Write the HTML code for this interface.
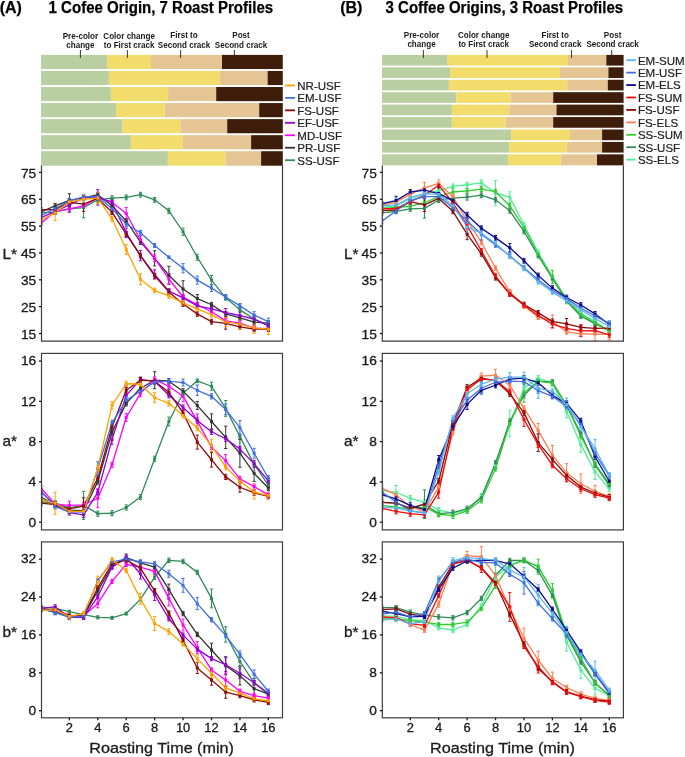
<!DOCTYPE html>
<html><head><meta charset="utf-8"><title>Roast profiles</title>
<style>
html,body{margin:0;padding:0;background:#fff;}
body{width:685px;height:757px;overflow:hidden;}
svg{display:block;font-family:'Liberation Sans',sans-serif;will-change:transform;}
</style></head><body>
<svg width="685" height="757" viewBox="0 0 685 757" font-family="Liberation Sans, sans-serif">
<defs><clipPath id="cAL"><rect x="41.5" y="165.5" width="241.0" height="175.60000000000002"/></clipPath><clipPath id="cAa"><rect x="41.5" y="353.4" width="241.0" height="176.5"/></clipPath><clipPath id="cAb"><rect x="41.5" y="541.9" width="241.0" height="175.89999999999998"/></clipPath><clipPath id="cBL"><rect x="382.3" y="165.5" width="241.09999999999997" height="175.60000000000002"/></clipPath><clipPath id="cBa"><rect x="382.3" y="353.4" width="241.09999999999997" height="176.5"/></clipPath><clipPath id="cBb"><rect x="382.3" y="541.9" width="241.09999999999997" height="175.89999999999998"/></clipPath></defs>
<rect width="685" height="757" fill="#fff"/>
<text x="-0.30" y="12.60" font-size="16" font-weight="bold" stroke="#000" stroke-width="0.25" fill="#000">(A)</text>
<text x="48.60" y="12.60" font-size="15.8" font-weight="bold" stroke="#000" stroke-width="0.25" textLength="224.5" lengthAdjust="spacingAndGlyphs" fill="#000">1 Cofee Origin, 7 Roast Profiles</text>
<text x="340.20" y="12.60" font-size="16" font-weight="bold" stroke="#000" stroke-width="0.25" fill="#000">(B)</text>
<text x="385.60" y="12.60" font-size="15.8" font-weight="bold" stroke="#000" stroke-width="0.25" textLength="237.5" lengthAdjust="spacingAndGlyphs" fill="#000">3 Coffee Origins, 3 Roast Profiles</text>
<text transform="translate(80.40 38.80) scale(0.95 1)" font-size="8.5" text-anchor="middle" font-weight="bold" fill="#1a1a1a">Pre-color</text>
<text transform="translate(80.40 48.40) scale(0.95 1)" font-size="8.5" text-anchor="middle" font-weight="bold" fill="#1a1a1a">change</text>
<text transform="translate(129.10 38.60) scale(0.95 1)" font-size="8.5" text-anchor="middle" font-weight="bold" fill="#1a1a1a">Color change</text>
<text transform="translate(129.10 48.40) scale(0.95 1)" font-size="8.5" text-anchor="middle" font-weight="bold" fill="#1a1a1a">to First crack</text>
<text transform="translate(184.00 38.30) scale(0.95 1)" font-size="8.5" text-anchor="middle" font-weight="bold" fill="#1a1a1a">First to</text>
<text transform="translate(184.00 48.10) scale(0.95 1)" font-size="8.5" text-anchor="middle" font-weight="bold" fill="#1a1a1a">Second crack</text>
<text transform="translate(241.00 38.30) scale(0.95 1)" font-size="8.5" text-anchor="middle" font-weight="bold" fill="#1a1a1a">Post</text>
<text transform="translate(241.00 48.10) scale(0.95 1)" font-size="8.5" text-anchor="middle" font-weight="bold" fill="#1a1a1a">Second crack</text>
<text transform="translate(421.50 37.70) scale(0.95 1)" font-size="8.5" text-anchor="middle" font-weight="bold" fill="#1a1a1a">Pre-color</text>
<text transform="translate(421.50 47.40) scale(0.95 1)" font-size="8.5" text-anchor="middle" font-weight="bold" fill="#1a1a1a">change</text>
<text transform="translate(483.70 37.70) scale(0.95 1)" font-size="8.5" text-anchor="middle" font-weight="bold" fill="#1a1a1a">Color change</text>
<text transform="translate(483.70 47.40) scale(0.95 1)" font-size="8.5" text-anchor="middle" font-weight="bold" fill="#1a1a1a">to First crack</text>
<text transform="translate(555.20 37.70) scale(0.95 1)" font-size="8.5" text-anchor="middle" font-weight="bold" fill="#1a1a1a">First to</text>
<text transform="translate(555.20 47.40) scale(0.95 1)" font-size="8.5" text-anchor="middle" font-weight="bold" fill="#1a1a1a">Second crack</text>
<text transform="translate(612.60 37.70) scale(0.95 1)" font-size="8.5" text-anchor="middle" font-weight="bold" fill="#1a1a1a">Post</text>
<text transform="translate(612.60 47.40) scale(0.95 1)" font-size="8.5" text-anchor="middle" font-weight="bold" fill="#1a1a1a">Second crack</text>
<rect x="41.10" y="54.90" width="66.00" height="14.15" fill="#B9CFA1"/>
<rect x="107.10" y="54.90" width="43.90" height="14.15" fill="#F2DC6C"/>
<rect x="151.00" y="54.90" width="71.00" height="14.15" fill="#E6C594"/>
<rect x="222.00" y="54.90" width="60.80" height="14.15" fill="#3E1E0B"/>
<rect x="41.10" y="70.95" width="67.80" height="14.15" fill="#B9CFA1"/>
<rect x="108.90" y="70.95" width="111.00" height="14.15" fill="#F2DC6C"/>
<rect x="219.90" y="70.95" width="47.70" height="14.15" fill="#E6C594"/>
<rect x="267.60" y="70.95" width="15.20" height="14.15" fill="#3E1E0B"/>
<rect x="41.10" y="87.00" width="69.80" height="14.15" fill="#B9CFA1"/>
<rect x="110.90" y="87.00" width="57.20" height="14.15" fill="#F2DC6C"/>
<rect x="168.10" y="87.00" width="48.10" height="14.15" fill="#E6C594"/>
<rect x="216.20" y="87.00" width="66.60" height="14.15" fill="#3E1E0B"/>
<rect x="41.10" y="103.05" width="74.90" height="14.15" fill="#B9CFA1"/>
<rect x="116.00" y="103.05" width="48.50" height="14.15" fill="#F2DC6C"/>
<rect x="164.50" y="103.05" width="94.70" height="14.15" fill="#E6C594"/>
<rect x="259.20" y="103.05" width="23.60" height="14.15" fill="#3E1E0B"/>
<rect x="41.10" y="119.10" width="81.50" height="14.15" fill="#B9CFA1"/>
<rect x="122.60" y="119.10" width="57.70" height="14.15" fill="#F2DC6C"/>
<rect x="180.30" y="119.10" width="46.90" height="14.15" fill="#E6C594"/>
<rect x="227.20" y="119.10" width="55.60" height="14.15" fill="#3E1E0B"/>
<rect x="41.10" y="135.15" width="89.70" height="14.15" fill="#B9CFA1"/>
<rect x="130.80" y="135.15" width="52.10" height="14.15" fill="#F2DC6C"/>
<rect x="182.90" y="135.15" width="68.20" height="14.15" fill="#E6C594"/>
<rect x="251.10" y="135.15" width="31.70" height="14.15" fill="#3E1E0B"/>
<rect x="41.10" y="151.20" width="126.80" height="14.50" fill="#B9CFA1"/>
<rect x="167.90" y="151.20" width="57.60" height="14.50" fill="#F2DC6C"/>
<rect x="225.50" y="151.20" width="35.60" height="14.50" fill="#E6C594"/>
<rect x="261.10" y="151.20" width="21.70" height="14.50" fill="#3E1E0B"/>
<rect x="382.00" y="54.90" width="65.70" height="10.70" fill="#B9CFA1"/>
<rect x="447.70" y="54.90" width="120.30" height="10.70" fill="#F2DC6C"/>
<rect x="568.00" y="54.90" width="38.30" height="10.70" fill="#E6C594"/>
<rect x="606.30" y="54.90" width="17.30" height="10.70" fill="#3E1E0B"/>
<rect x="382.00" y="67.33" width="68.00" height="10.70" fill="#B9CFA1"/>
<rect x="450.00" y="67.33" width="110.00" height="10.70" fill="#F2DC6C"/>
<rect x="560.00" y="67.33" width="48.40" height="10.70" fill="#E6C594"/>
<rect x="608.40" y="67.33" width="15.20" height="10.70" fill="#3E1E0B"/>
<rect x="382.00" y="79.76" width="66.90" height="10.70" fill="#B9CFA1"/>
<rect x="448.90" y="79.76" width="118.30" height="10.70" fill="#F2DC6C"/>
<rect x="567.20" y="79.76" width="40.60" height="10.70" fill="#E6C594"/>
<rect x="607.80" y="79.76" width="15.80" height="10.70" fill="#3E1E0B"/>
<rect x="382.00" y="92.19" width="74.30" height="10.70" fill="#B9CFA1"/>
<rect x="456.30" y="92.19" width="54.10" height="10.70" fill="#F2DC6C"/>
<rect x="510.40" y="92.19" width="42.80" height="10.70" fill="#E6C594"/>
<rect x="553.20" y="92.19" width="70.40" height="10.70" fill="#3E1E0B"/>
<rect x="382.00" y="104.62" width="69.90" height="10.70" fill="#B9CFA1"/>
<rect x="451.90" y="104.62" width="57.40" height="10.70" fill="#F2DC6C"/>
<rect x="509.30" y="104.62" width="47.20" height="10.70" fill="#E6C594"/>
<rect x="556.50" y="104.62" width="67.10" height="10.70" fill="#3E1E0B"/>
<rect x="382.00" y="117.05" width="69.90" height="10.70" fill="#B9CFA1"/>
<rect x="451.90" y="117.05" width="53.70" height="10.70" fill="#F2DC6C"/>
<rect x="505.60" y="117.05" width="47.60" height="10.70" fill="#E6C594"/>
<rect x="553.20" y="117.05" width="70.40" height="10.70" fill="#3E1E0B"/>
<rect x="382.00" y="129.48" width="129.10" height="10.70" fill="#B9CFA1"/>
<rect x="511.10" y="129.48" width="58.90" height="10.70" fill="#F2DC6C"/>
<rect x="570.00" y="129.48" width="32.10" height="10.70" fill="#E6C594"/>
<rect x="602.10" y="129.48" width="21.50" height="10.70" fill="#3E1E0B"/>
<rect x="382.00" y="141.91" width="127.20" height="10.70" fill="#B9CFA1"/>
<rect x="509.20" y="141.91" width="57.90" height="10.70" fill="#F2DC6C"/>
<rect x="567.10" y="141.91" width="35.00" height="10.70" fill="#E6C594"/>
<rect x="602.10" y="141.91" width="21.50" height="10.70" fill="#3E1E0B"/>
<rect x="382.00" y="154.34" width="125.90" height="11.00" fill="#B9CFA1"/>
<rect x="507.90" y="154.34" width="52.80" height="11.00" fill="#F2DC6C"/>
<rect x="560.70" y="154.34" width="36.30" height="11.00" fill="#E6C594"/>
<rect x="597.00" y="154.34" width="26.60" height="11.00" fill="#3E1E0B"/>
<line x1="80.4" y1="50" x2="80.4" y2="58" stroke="#222" stroke-width="0.9"/>
<line x1="127.4" y1="50" x2="127.4" y2="58" stroke="#222" stroke-width="0.9"/>
<line x1="180.6" y1="50" x2="180.6" y2="58" stroke="#222" stroke-width="0.9"/>
<line x1="234.4" y1="50" x2="234.4" y2="58" stroke="#222" stroke-width="0.9"/>
<line x1="423.4" y1="50" x2="423.4" y2="58" stroke="#222" stroke-width="0.9"/>
<line x1="487.0" y1="50" x2="487.0" y2="58" stroke="#222" stroke-width="0.9"/>
<line x1="571.5" y1="50" x2="571.5" y2="58" stroke="#222" stroke-width="0.9"/>
<line x1="611.7" y1="50" x2="611.7" y2="58" stroke="#222" stroke-width="0.9"/>
<line x1="285.1" y1="85.40" x2="295.0" y2="85.40" stroke="#FFA200" stroke-width="1.8"/>
<text transform="translate(297.30 89.80) scale(1.02 1)" font-size="11.3" stroke="#222" stroke-width="0.2" fill="#222">NR-USF</text>
<line x1="285.1" y1="97.87" x2="295.0" y2="97.87" stroke="#3F6FE0" stroke-width="1.8"/>
<text transform="translate(297.30 102.27) scale(1.02 1)" font-size="11.3" stroke="#222" stroke-width="0.2" fill="#222">EM-USF</text>
<line x1="285.1" y1="110.34" x2="295.0" y2="110.34" stroke="#8B0A0A" stroke-width="1.8"/>
<text transform="translate(297.30 114.74) scale(1.02 1)" font-size="11.3" stroke="#222" stroke-width="0.2" fill="#222">FS-USF</text>
<line x1="285.1" y1="122.81" x2="295.0" y2="122.81" stroke="#9400D3" stroke-width="1.8"/>
<text transform="translate(297.30 127.21) scale(1.02 1)" font-size="11.3" stroke="#222" stroke-width="0.2" fill="#222">EF-USF</text>
<line x1="285.1" y1="135.28" x2="295.0" y2="135.28" stroke="#FF00FF" stroke-width="1.8"/>
<text transform="translate(297.30 139.68) scale(1.02 1)" font-size="11.3" stroke="#222" stroke-width="0.2" fill="#222">MD-USF</text>
<line x1="285.1" y1="147.75" x2="295.0" y2="147.75" stroke="#333333" stroke-width="1.8"/>
<text transform="translate(297.30 152.15) scale(1.02 1)" font-size="11.3" stroke="#222" stroke-width="0.2" fill="#222">PR-USF</text>
<line x1="285.1" y1="160.22" x2="295.0" y2="160.22" stroke="#2E8B57" stroke-width="1.8"/>
<text transform="translate(297.30 164.62) scale(1.02 1)" font-size="11.3" stroke="#222" stroke-width="0.2" fill="#222">SS-USF</text>
<line x1="626.3" y1="60.20" x2="635.9" y2="60.20" stroke="#5CB4F0" stroke-width="1.8"/>
<text transform="translate(637.90 64.60) scale(1.02 1)" font-size="11.3" stroke="#222" stroke-width="0.2" fill="#222">EM-SUM</text>
<line x1="626.3" y1="72.63" x2="635.9" y2="72.63" stroke="#3F6FE0" stroke-width="1.8"/>
<text transform="translate(637.90 77.03) scale(1.02 1)" font-size="11.3" stroke="#222" stroke-width="0.2" fill="#222">EM-USF</text>
<line x1="626.3" y1="85.06" x2="635.9" y2="85.06" stroke="#0A0A8C" stroke-width="1.8"/>
<text transform="translate(637.90 89.46) scale(1.02 1)" font-size="11.3" stroke="#222" stroke-width="0.2" fill="#222">EM-ELS</text>
<line x1="626.3" y1="97.49" x2="635.9" y2="97.49" stroke="#F00A0A" stroke-width="1.8"/>
<text transform="translate(637.90 101.89) scale(1.02 1)" font-size="11.3" stroke="#222" stroke-width="0.2" fill="#222">FS-SUM</text>
<line x1="626.3" y1="109.92" x2="635.9" y2="109.92" stroke="#8B0A0A" stroke-width="1.8"/>
<text transform="translate(637.90 114.32) scale(1.02 1)" font-size="11.3" stroke="#222" stroke-width="0.2" fill="#222">FS-USF</text>
<line x1="626.3" y1="122.35" x2="635.9" y2="122.35" stroke="#FF7F50" stroke-width="1.8"/>
<text transform="translate(637.90 126.75) scale(1.02 1)" font-size="11.3" stroke="#222" stroke-width="0.2" fill="#222">FS-ELS</text>
<line x1="626.3" y1="134.78" x2="635.9" y2="134.78" stroke="#32C832" stroke-width="1.8"/>
<text transform="translate(637.90 139.18) scale(1.02 1)" font-size="11.3" stroke="#222" stroke-width="0.2" fill="#222">SS-SUM</text>
<line x1="626.3" y1="147.21" x2="635.9" y2="147.21" stroke="#2E8B57" stroke-width="1.8"/>
<text transform="translate(637.90 151.61) scale(1.02 1)" font-size="11.3" stroke="#222" stroke-width="0.2" fill="#222">SS-USF</text>
<line x1="626.3" y1="159.64" x2="635.9" y2="159.64" stroke="#50EE96" stroke-width="1.8"/>
<text transform="translate(637.90 164.04) scale(1.02 1)" font-size="11.3" stroke="#222" stroke-width="0.2" fill="#222">SS-ELS</text>
<g clip-path="url(#cAL)">
<polyline points="40.94,212.68 55.15,212.14 69.37,208.92 83.58,207.57 97.79,199.79 112.00,198.18 126.22,197.37 140.43,194.69 154.64,199.79 168.86,210.80 183.07,231.74 197.28,257.25 211.50,280.07 225.71,297.79 239.92,309.87 254.13,319.00 268.35,325.71" fill="none" stroke="#2E8B57" stroke-width="1.3" stroke-linejoin="round"/>
<polyline points="40.94,211.87 55.15,205.96 69.37,200.32 83.58,197.91 97.79,194.69 112.00,205.69 126.22,221.00 140.43,241.94 154.64,258.32 168.86,275.24 183.07,288.93 197.28,298.60 211.50,304.77 225.71,313.90 239.92,317.93 254.13,322.22 268.35,323.03" fill="none" stroke="#333333" stroke-width="1.3" stroke-linejoin="round"/>
<polyline points="40.94,223.42 55.15,211.33 69.37,208.92 83.58,205.96 97.79,197.91 112.00,202.20 126.22,213.48 140.43,239.79 154.64,258.32 168.86,278.99 183.07,296.98 197.28,304.77 211.50,311.75 225.71,320.88 239.92,323.03 254.13,328.13 268.35,328.67" fill="none" stroke="#FF00FF" stroke-width="1.3" stroke-linejoin="round"/>
<polyline points="40.94,217.78 55.15,211.33 69.37,204.89 83.58,197.91 97.79,197.37 112.00,202.20 126.22,232.81 140.43,255.63 154.64,274.43 168.86,291.08 183.07,297.92 197.28,305.84 211.50,308.80 225.71,312.56 239.92,315.51 254.13,319.00 268.35,325.71" fill="none" stroke="#9400D3" stroke-width="1.3" stroke-linejoin="round"/>
<polyline points="40.94,209.99 55.15,209.45 69.37,202.47 83.58,204.08 97.79,198.44 112.00,212.14 126.22,234.16 140.43,255.63 154.64,275.77 168.86,291.88 183.07,303.97 197.28,313.90 211.50,321.69 225.71,323.30 239.92,326.79 254.13,329.20 268.35,329.20" fill="none" stroke="#8B0A0A" stroke-width="1.3" stroke-linejoin="round"/>
<polyline points="40.94,215.63 55.15,208.65 69.37,200.86 83.58,196.83 97.79,196.56 112.00,208.65 126.22,223.95 140.43,232.81 154.64,245.43 168.86,257.25 183.07,268.25 197.28,280.07 211.50,288.12 225.71,296.98 239.92,305.84 254.13,314.97 268.35,321.69" fill="none" stroke="#3F6FE0" stroke-width="1.3" stroke-linejoin="round"/>
<polyline points="40.94,220.19 55.15,212.68 69.37,201.94 83.58,199.25 97.79,198.18 112.00,218.85 126.22,249.46 140.43,279.26 154.64,290.54 168.86,295.91 183.07,302.89 197.28,308.80 211.50,314.71 225.71,321.95 239.92,324.10 254.13,327.86 268.35,329.20" fill="none" stroke="#FFA200" stroke-width="1.3" stroke-linejoin="round"/>
<path d="M40.94 210.28V215.08M39.34 210.28h3.2M39.34 215.08h3.2M55.15 209.74V214.54M53.55 209.74h3.2M53.55 214.54h3.2M69.37 206.52V211.32M67.77 206.52h3.2M67.77 211.32h3.2M83.58 197.37V217.77M81.98 197.37h3.2M81.98 217.77h3.2M97.79 197.39V202.19M96.19 197.39h3.2M96.19 202.19h3.2M112.00 195.78V200.58M110.41 195.78h3.2M110.41 200.58h3.2M126.22 194.97V199.77M124.62 194.97h3.2M124.62 199.77h3.2M140.43 192.29V197.09M138.83 192.29h3.2M138.83 197.09h3.2M154.64 197.39V202.19M153.04 197.39h3.2M153.04 202.19h3.2M168.86 208.20V213.40M167.26 208.20h3.2M167.26 213.40h3.2M183.07 228.14V235.34M181.47 228.14h3.2M181.47 235.34h3.2M197.28 254.25V260.25M195.68 254.25h3.2M195.68 260.25h3.2M211.50 275.47V284.67M209.90 275.47h3.2M209.90 284.67h3.2M225.71 295.39V300.19M224.11 295.39h3.2M224.11 300.19h3.2M239.92 307.47V312.27M238.32 307.47h3.2M238.32 312.27h3.2M254.13 316.60V321.40M252.53 316.60h3.2M252.53 321.40h3.2M268.35 323.31V328.11M266.75 323.31h3.2M266.75 328.11h3.2" stroke="#2E8B57" stroke-width="1" fill="none"/>
<path d="M40.94 209.47V214.27M39.34 209.47h3.2M39.34 214.27h3.2M55.15 203.56V208.36M53.55 203.56h3.2M53.55 208.36h3.2M69.37 193.72V206.92M67.77 193.72h3.2M67.77 206.92h3.2M83.58 195.51V200.31M81.98 195.51h3.2M81.98 200.31h3.2M97.79 192.29V197.09M96.19 192.29h3.2M96.19 197.09h3.2M112.00 203.29V208.09M110.41 203.29h3.2M110.41 208.09h3.2M126.22 218.60V223.40M124.62 218.60h3.2M124.62 223.40h3.2M140.43 239.54V244.34M138.83 239.54h3.2M138.83 244.34h3.2M154.64 250.72V265.92M153.04 250.72h3.2M153.04 265.92h3.2M168.86 266.24V284.24M167.26 266.24h3.2M167.26 284.24h3.2M183.07 280.73V297.13M181.47 280.73h3.2M181.47 297.13h3.2M197.28 294.60V302.60M195.68 294.60h3.2M195.68 302.60h3.2M211.50 302.37V307.17M209.90 302.37h3.2M209.90 307.17h3.2M225.71 311.50V316.30M224.11 311.50h3.2M224.11 316.30h3.2M239.92 315.53V320.33M238.32 315.53h3.2M238.32 320.33h3.2M254.13 319.82V324.62M252.53 319.82h3.2M252.53 324.62h3.2M268.35 320.63V325.43M266.75 320.63h3.2M266.75 325.43h3.2" stroke="#333333" stroke-width="1" fill="none"/>
<path d="M40.94 221.02V225.82M39.34 221.02h3.2M39.34 225.82h3.2M55.15 208.93V213.73M53.55 208.93h3.2M53.55 213.73h3.2M69.37 205.32V212.52M67.77 205.32h3.2M67.77 212.52h3.2M83.58 203.56V208.36M81.98 203.56h3.2M81.98 208.36h3.2M97.79 195.51V200.31M96.19 195.51h3.2M96.19 200.31h3.2M112.00 199.80V204.60M110.41 199.80h3.2M110.41 204.60h3.2M126.22 207.58V219.38M124.62 207.58h3.2M124.62 219.38h3.2M140.43 235.99V243.59M138.83 235.99h3.2M138.83 243.59h3.2M154.64 255.02V261.62M153.04 255.02h3.2M153.04 261.62h3.2M168.86 273.69V284.29M167.26 273.69h3.2M167.26 284.29h3.2M183.07 294.58V299.38M181.47 294.58h3.2M181.47 299.38h3.2M197.28 302.37V307.17M195.68 302.37h3.2M195.68 307.17h3.2M211.50 309.35V314.15M209.90 309.35h3.2M209.90 314.15h3.2M225.71 318.48V323.28M224.11 318.48h3.2M224.11 323.28h3.2M239.92 320.63V325.43M238.32 320.63h3.2M238.32 325.43h3.2M254.13 325.73V330.53M252.53 325.73h3.2M252.53 330.53h3.2M268.35 326.27V331.07M266.75 326.27h3.2M266.75 331.07h3.2" stroke="#FF00FF" stroke-width="1" fill="none"/>
<path d="M40.94 215.38V220.18M39.34 215.38h3.2M39.34 220.18h3.2M55.15 208.93V213.73M53.55 208.93h3.2M53.55 213.73h3.2M69.37 202.49V207.29M67.77 202.49h3.2M67.77 207.29h3.2M83.58 195.51V200.31M81.98 195.51h3.2M81.98 200.31h3.2M97.79 189.67V205.07M96.19 189.67h3.2M96.19 205.07h3.2M112.00 199.80V204.60M110.41 199.80h3.2M110.41 204.60h3.2M126.22 228.01V237.61M124.62 228.01h3.2M124.62 237.61h3.2M140.43 250.44V260.83M138.83 250.44h3.2M138.83 260.83h3.2M154.64 269.83V279.03M153.04 269.83h3.2M153.04 279.03h3.2M168.86 288.68V293.48M167.26 288.68h3.2M167.26 293.48h3.2M183.07 295.52V300.32M181.47 295.52h3.2M181.47 300.32h3.2M197.28 303.44V308.24M195.68 303.44h3.2M195.68 308.24h3.2M211.50 306.40V311.20M209.90 306.40h3.2M209.90 311.20h3.2M225.71 308.56V316.56M224.11 308.56h3.2M224.11 316.56h3.2M239.92 311.91V319.11M238.32 311.91h3.2M238.32 319.11h3.2M254.13 315.50V322.50M252.53 315.50h3.2M252.53 322.50h3.2M268.35 323.31V328.11M266.75 323.31h3.2M266.75 328.11h3.2" stroke="#9400D3" stroke-width="1" fill="none"/>
<path d="M40.94 207.59V212.39M39.34 207.59h3.2M39.34 212.39h3.2M55.15 207.05V211.85M53.55 207.05h3.2M53.55 211.85h3.2M69.37 200.07V204.87M67.77 200.07h3.2M67.77 204.87h3.2M83.58 196.78V211.38M81.98 196.78h3.2M81.98 211.38h3.2M97.79 196.04V200.84M96.19 196.04h3.2M96.19 200.84h3.2M112.00 209.74V214.54M110.41 209.74h3.2M110.41 214.54h3.2M126.22 231.75V236.56M124.62 231.75h3.2M124.62 236.56h3.2M140.43 253.23V258.03M138.83 253.23h3.2M138.83 258.03h3.2M154.64 273.37V278.17M153.04 273.37h3.2M153.04 278.17h3.2M168.86 289.48V294.28M167.26 289.48h3.2M167.26 294.28h3.2M183.07 301.57V306.37M181.47 301.57h3.2M181.47 306.37h3.2M197.28 311.50V316.30M195.68 311.50h3.2M195.68 316.30h3.2M211.50 319.29V324.09M209.90 319.29h3.2M209.90 324.09h3.2M225.71 317.40V329.20M224.11 317.40h3.2M224.11 329.20h3.2M239.92 324.39V329.19M238.32 324.39h3.2M238.32 329.19h3.2M254.13 326.80V331.60M252.53 326.80h3.2M252.53 331.60h3.2M268.35 326.80V331.60M266.75 326.80h3.2M266.75 331.60h3.2" stroke="#8B0A0A" stroke-width="1" fill="none"/>
<path d="M40.94 213.23V218.03M39.34 213.23h3.2M39.34 218.03h3.2M55.15 206.25V211.05M53.55 206.25h3.2M53.55 211.05h3.2M69.37 198.46V203.26M67.77 198.46h3.2M67.77 203.26h3.2M83.58 194.43V199.23M81.98 194.43h3.2M81.98 199.23h3.2M97.79 194.16V198.97M96.19 194.16h3.2M96.19 198.97h3.2M112.00 206.25V211.05M110.41 206.25h3.2M110.41 211.05h3.2M126.22 221.55V226.35M124.62 221.55h3.2M124.62 226.35h3.2M140.43 230.41V235.21M138.83 230.41h3.2M138.83 235.21h3.2M154.64 243.43V247.43M153.04 243.43h3.2M153.04 247.43h3.2M168.86 256.05V258.45M167.26 256.05h3.2M167.26 258.45h3.2M183.07 263.65V272.85M181.47 263.65h3.2M181.47 272.85h3.2M197.28 276.07V284.07M195.68 276.07h3.2M195.68 284.07h3.2M211.50 284.82V291.42M209.90 284.82h3.2M209.90 291.42h3.2M225.71 294.58V299.38M224.11 294.58h3.2M224.11 299.38h3.2M239.92 303.44V308.24M238.32 303.44h3.2M238.32 308.24h3.2M254.13 311.67V318.27M252.53 311.67h3.2M252.53 318.27h3.2M268.35 318.09V325.29M266.75 318.09h3.2M266.75 325.29h3.2" stroke="#3F6FE0" stroke-width="1" fill="none"/>
<path d="M40.94 217.79V222.59M39.34 217.79h3.2M39.34 222.59h3.2M55.15 204.98V220.38M53.55 204.98h3.2M53.55 220.38h3.2M69.37 199.53V204.34M67.77 199.53h3.2M67.77 204.34h3.2M83.58 194.95V203.55M81.98 194.95h3.2M81.98 203.55h3.2M97.79 192.98V203.38M96.19 192.98h3.2M96.19 203.38h3.2M112.00 216.45V221.25M110.41 216.45h3.2M110.41 221.25h3.2M126.22 244.56V254.36M124.62 244.56h3.2M124.62 254.36h3.2M140.43 273.76V284.76M138.83 273.76h3.2M138.83 284.76h3.2M154.64 288.14V292.94M153.04 288.14h3.2M153.04 292.94h3.2M168.86 293.51V298.31M167.26 293.51h3.2M167.26 298.31h3.2M183.07 300.49V305.29M181.47 300.49h3.2M181.47 305.29h3.2M197.28 306.40V311.20M195.68 306.40h3.2M195.68 311.20h3.2M211.50 312.31V317.11M209.90 312.31h3.2M209.90 317.11h3.2M225.71 317.45V326.45M224.11 317.45h3.2M224.11 326.45h3.2M239.92 319.10V329.10M238.32 319.10h3.2M238.32 329.10h3.2M254.13 322.36V333.36M252.53 322.36h3.2M252.53 333.36h3.2M268.35 323.90V334.50M266.75 323.90h3.2M266.75 334.50h3.2" stroke="#FFA200" stroke-width="1" fill="none"/>
<path d="M39.44 211.18h3v3h-3zM53.65 210.64h3v3h-3zM67.87 207.42h3v3h-3zM82.08 206.07h3v3h-3zM96.29 198.29h3v3h-3zM110.50 196.68h3v3h-3zM124.72 195.87h3v3h-3zM138.93 193.19h3v3h-3zM153.14 198.29h3v3h-3zM167.36 209.30h3v3h-3zM181.57 230.24h3v3h-3zM195.78 255.75h3v3h-3zM210.00 278.57h3v3h-3zM224.21 296.29h3v3h-3zM238.42 308.37h3v3h-3zM252.63 317.50h3v3h-3zM266.85 324.21h3v3h-3z" fill="#2E8B57"/>
<path d="M39.44 210.37h3v3h-3zM53.65 204.46h3v3h-3zM67.87 198.82h3v3h-3zM82.08 196.41h3v3h-3zM96.29 193.19h3v3h-3zM110.50 204.19h3v3h-3zM124.72 219.50h3v3h-3zM138.93 240.44h3v3h-3zM153.14 256.82h3v3h-3zM167.36 273.74h3v3h-3zM181.57 287.43h3v3h-3zM195.78 297.10h3v3h-3zM210.00 303.27h3v3h-3zM224.21 312.40h3v3h-3zM238.42 316.43h3v3h-3zM252.63 320.72h3v3h-3zM266.85 321.53h3v3h-3z" fill="#333333"/>
<path d="M39.44 221.92h3v3h-3zM53.65 209.83h3v3h-3zM67.87 207.42h3v3h-3zM82.08 204.46h3v3h-3zM96.29 196.41h3v3h-3zM110.50 200.70h3v3h-3zM124.72 211.98h3v3h-3zM138.93 238.29h3v3h-3zM153.14 256.82h3v3h-3zM167.36 277.49h3v3h-3zM181.57 295.48h3v3h-3zM195.78 303.27h3v3h-3zM210.00 310.25h3v3h-3zM224.21 319.38h3v3h-3zM238.42 321.53h3v3h-3zM252.63 326.63h3v3h-3zM266.85 327.17h3v3h-3z" fill="#FF00FF"/>
<path d="M39.44 216.28h3v3h-3zM53.65 209.83h3v3h-3zM67.87 203.39h3v3h-3zM82.08 196.41h3v3h-3zM96.29 195.87h3v3h-3zM110.50 200.70h3v3h-3zM124.72 231.31h3v3h-3zM138.93 254.13h3v3h-3zM153.14 272.93h3v3h-3zM167.36 289.58h3v3h-3zM181.57 296.42h3v3h-3zM195.78 304.34h3v3h-3zM210.00 307.30h3v3h-3zM224.21 311.06h3v3h-3zM238.42 314.01h3v3h-3zM252.63 317.50h3v3h-3zM266.85 324.21h3v3h-3z" fill="#9400D3"/>
<path d="M39.44 208.49h3v3h-3zM53.65 207.95h3v3h-3zM67.87 200.97h3v3h-3zM82.08 202.58h3v3h-3zM96.29 196.94h3v3h-3zM110.50 210.64h3v3h-3zM124.72 232.66h3v3h-3zM138.93 254.13h3v3h-3zM153.14 274.27h3v3h-3zM167.36 290.38h3v3h-3zM181.57 302.47h3v3h-3zM195.78 312.40h3v3h-3zM210.00 320.19h3v3h-3zM224.21 321.80h3v3h-3zM238.42 325.29h3v3h-3zM252.63 327.70h3v3h-3zM266.85 327.70h3v3h-3z" fill="#8B0A0A"/>
<path d="M39.44 214.13h3v3h-3zM53.65 207.15h3v3h-3zM67.87 199.36h3v3h-3zM82.08 195.33h3v3h-3zM96.29 195.06h3v3h-3zM110.50 207.15h3v3h-3zM124.72 222.45h3v3h-3zM138.93 231.31h3v3h-3zM153.14 243.93h3v3h-3zM167.36 255.75h3v3h-3zM181.57 266.75h3v3h-3zM195.78 278.57h3v3h-3zM210.00 286.62h3v3h-3zM224.21 295.48h3v3h-3zM238.42 304.34h3v3h-3zM252.63 313.47h3v3h-3zM266.85 320.19h3v3h-3z" fill="#3F6FE0"/>
<path d="M39.44 218.69h3v3h-3zM53.65 211.18h3v3h-3zM67.87 200.44h3v3h-3zM82.08 197.75h3v3h-3zM96.29 196.68h3v3h-3zM110.50 217.35h3v3h-3zM124.72 247.96h3v3h-3zM138.93 277.76h3v3h-3zM153.14 289.04h3v3h-3zM167.36 294.41h3v3h-3zM181.57 301.39h3v3h-3zM195.78 307.30h3v3h-3zM210.00 313.21h3v3h-3zM224.21 320.45h3v3h-3zM238.42 322.60h3v3h-3zM252.63 326.36h3v3h-3zM266.85 327.70h3v3h-3z" fill="#FFA200"/>
</g>
<g clip-path="url(#cAa)">
<polyline points="40.94,501.76 55.15,503.07 69.37,507.70 83.58,505.38 97.79,513.64 112.00,513.24 126.22,507.50 140.43,497.03 154.64,458.76 168.86,421.50 183.07,393.30 197.28,380.82 211.50,386.26 225.71,408.41 239.92,436.61 254.13,464.40 268.35,485.14" fill="none" stroke="#2E8B57" stroke-width="1.3" stroke-linejoin="round"/>
<polyline points="40.94,497.03 55.15,505.08 69.37,510.12 83.58,510.72 97.79,481.62 112.00,432.17 126.22,403.37 140.43,388.27 154.64,380.21 168.86,381.22 183.07,391.29 197.28,405.39 211.50,421.50 225.71,437.31 239.92,453.22 254.13,473.36 268.35,487.96" fill="none" stroke="#333333" stroke-width="1.3" stroke-linejoin="round"/>
<polyline points="40.94,487.96 55.15,504.07 69.37,505.38 83.58,504.78 97.79,498.23 112.00,464.80 126.22,417.47 140.43,393.30 154.64,379.61 168.86,386.26 183.07,396.33 197.28,421.10 211.50,447.08 225.71,460.87 239.92,478.90 254.13,486.55 268.35,494.91" fill="none" stroke="#FF00FF" stroke-width="1.3" stroke-linejoin="round"/>
<polyline points="40.94,491.99 55.15,505.08 69.37,512.53 83.58,514.85 97.79,492.29 112.00,439.63 126.22,395.32 140.43,379.61 154.64,381.22 168.86,395.32 183.07,407.40 197.28,420.49 211.50,431.77 225.71,438.72 239.92,449.09 254.13,463.79 268.35,480.91" fill="none" stroke="#9400D3" stroke-width="1.3" stroke-linejoin="round"/>
<polyline points="40.94,503.07 55.15,504.58 69.37,508.91 83.58,506.09 97.79,477.99 112.00,426.94 126.22,390.28 140.43,380.21 154.64,381.22 168.86,392.30 183.07,412.94 197.28,442.14 211.50,459.77 225.71,476.89 239.92,487.26 254.13,492.80 268.35,496.32" fill="none" stroke="#8B0A0A" stroke-width="1.3" stroke-linejoin="round"/>
<polyline points="40.94,491.08 55.15,506.59 69.37,511.93 83.58,512.13 97.79,468.53 112.00,422.81 126.22,400.35 140.43,391.29 154.64,382.23 168.86,381.22 183.07,382.53 197.28,390.28 211.50,396.33 225.71,409.42 239.92,427.64 254.13,453.22 268.35,478.19" fill="none" stroke="#3F6FE0" stroke-width="1.3" stroke-linejoin="round"/>
<polyline points="40.94,499.44 55.15,503.27 69.37,511.32 83.58,511.32 97.79,467.92 112.00,405.39 126.22,383.74 140.43,384.24 154.64,397.73 168.86,403.37 183.07,415.46 197.28,428.05 211.50,445.67 225.71,467.12 239.92,480.91 254.13,491.99 268.35,495.62" fill="none" stroke="#FFA200" stroke-width="1.3" stroke-linejoin="round"/>
<path d="M40.94 499.16V504.36M39.34 499.16h3.2M39.34 504.36h3.2M55.15 500.47V505.67M53.55 500.47h3.2M53.55 505.67h3.2M69.37 505.10V510.30M67.77 505.10h3.2M67.77 510.30h3.2M83.58 491.38V519.38M81.98 491.38h3.2M81.98 519.38h3.2M97.79 511.04V516.24M96.19 511.04h3.2M96.19 516.24h3.2M112.00 510.64V515.84M110.41 510.64h3.2M110.41 515.84h3.2M126.22 504.90V510.10M124.62 504.90h3.2M124.62 510.10h3.2M140.43 494.43V499.63M138.83 494.43h3.2M138.83 499.63h3.2M154.64 456.16V461.36M153.04 456.16h3.2M153.04 461.36h3.2M168.86 417.10V425.90M167.26 417.10h3.2M167.26 425.90h3.2M183.07 390.70V395.90M181.47 390.70h3.2M181.47 395.90h3.2M197.28 379.02V382.62M195.68 379.02h3.2M195.68 382.62h3.2M211.50 382.26V390.26M209.90 382.26h3.2M209.90 390.26h3.2M225.71 400.51V416.31M224.11 400.51h3.2M224.11 416.31h3.2M239.92 434.00V439.21M238.32 434.00h3.2M238.32 439.21h3.2M254.13 461.80V467.00M252.53 461.80h3.2M252.53 467.00h3.2M268.35 482.54V487.74M266.75 482.54h3.2M266.75 487.74h3.2" stroke="#2E8B57" stroke-width="1" fill="none"/>
<path d="M40.94 494.43V499.63M39.34 494.43h3.2M39.34 499.63h3.2M55.15 502.48V507.68M53.55 502.48h3.2M53.55 507.68h3.2M69.37 507.52V512.72M67.77 507.52h3.2M67.77 512.72h3.2M83.58 508.12V513.32M81.98 508.12h3.2M81.98 513.32h3.2M97.79 479.02V484.22M96.19 479.02h3.2M96.19 484.22h3.2M112.00 429.57V434.77M110.41 429.57h3.2M110.41 434.77h3.2M126.22 400.77V405.97M124.62 400.77h3.2M124.62 405.97h3.2M140.43 385.67V390.87M138.83 385.67h3.2M138.83 390.87h3.2M154.64 371.71V388.71M153.04 371.71h3.2M153.04 388.71h3.2M168.86 378.62V383.82M167.26 378.62h3.2M167.26 383.82h3.2M183.07 388.69V393.89M181.47 388.69h3.2M181.47 393.89h3.2M197.28 401.39V409.39M195.68 401.39h3.2M195.68 409.39h3.2M211.50 413.90V429.10M209.90 413.90h3.2M209.90 429.10h3.2M225.71 426.11V448.51M224.11 426.11h3.2M224.11 448.51h3.2M239.92 439.22V467.22M238.32 439.22h3.2M238.32 467.22h3.2M254.13 465.36V481.36M252.53 465.36h3.2M252.53 481.36h3.2M268.35 485.36V490.56M266.75 485.36h3.2M266.75 490.56h3.2" stroke="#333333" stroke-width="1" fill="none"/>
<path d="M40.94 485.36V490.56M39.34 485.36h3.2M39.34 490.56h3.2M55.15 501.47V506.67M53.55 501.47h3.2M53.55 506.67h3.2M69.37 501.18V509.58M67.77 501.18h3.2M67.77 509.58h3.2M83.58 502.18V507.38M81.98 502.18h3.2M81.98 507.38h3.2M97.79 488.73V507.73M96.19 488.73h3.2M96.19 507.73h3.2M112.00 462.20V467.40M110.41 462.20h3.2M110.41 467.40h3.2M126.22 413.67V421.27M124.62 413.67h3.2M124.62 421.27h3.2M140.43 389.80V396.80M138.83 389.80h3.2M138.83 396.80h3.2M154.64 377.01V382.21M153.04 377.01h3.2M153.04 382.21h3.2M168.86 383.66V388.86M167.26 383.66h3.2M167.26 388.86h3.2M183.07 390.83V401.83M181.47 390.83h3.2M181.47 401.83h3.2M197.28 413.90V428.30M195.68 413.90h3.2M195.68 428.30h3.2M211.50 444.48V449.68M209.90 444.48h3.2M209.90 449.68h3.2M225.71 454.67V467.07M224.11 454.67h3.2M224.11 467.07h3.2M239.92 476.30V481.50M238.32 476.30h3.2M238.32 481.50h3.2M254.13 483.95V489.15M252.53 483.95h3.2M252.53 489.15h3.2M268.35 492.31V497.51M266.75 492.31h3.2M266.75 497.51h3.2" stroke="#FF00FF" stroke-width="1" fill="none"/>
<path d="M40.94 489.39V494.59M39.34 489.39h3.2M39.34 494.59h3.2M55.15 502.48V507.68M53.55 502.48h3.2M53.55 507.68h3.2M69.37 509.93V515.13M67.77 509.93h3.2M67.77 515.13h3.2M83.58 512.25V517.45M81.98 512.25h3.2M81.98 517.45h3.2M97.79 489.69V494.89M96.19 489.69h3.2M96.19 494.89h3.2M112.00 434.93V444.33M110.41 434.93h3.2M110.41 444.33h3.2M126.22 386.02V404.62M124.62 386.02h3.2M124.62 404.62h3.2M140.43 377.01V382.21M138.83 377.01h3.2M138.83 382.21h3.2M154.64 378.62V383.82M153.04 378.62h3.2M153.04 383.82h3.2M168.86 392.72V397.92M167.26 392.72h3.2M167.26 397.92h3.2M183.07 404.80V410.00M181.47 404.80h3.2M181.47 410.00h3.2M197.28 417.89V423.09M195.68 417.89h3.2M195.68 423.09h3.2M211.50 429.17V434.37M209.90 429.17h3.2M209.90 434.37h3.2M225.71 436.12V441.32M224.11 436.12h3.2M224.11 441.32h3.2M239.92 446.49V451.69M238.32 446.49h3.2M238.32 451.69h3.2M254.13 460.29V467.29M252.53 460.29h3.2M252.53 467.29h3.2M268.35 478.31V483.51M266.75 478.31h3.2M266.75 483.51h3.2" stroke="#9400D3" stroke-width="1" fill="none"/>
<path d="M40.94 500.47V505.67M39.34 500.47h3.2M39.34 505.67h3.2M55.15 501.98V507.18M53.55 501.98h3.2M53.55 507.18h3.2M69.37 506.31V511.51M67.77 506.31h3.2M67.77 511.51h3.2M83.58 497.79V514.39M81.98 497.79h3.2M81.98 514.39h3.2M97.79 475.39V480.59M96.19 475.39h3.2M96.19 480.59h3.2M112.00 424.34V429.54M110.41 424.34h3.2M110.41 429.54h3.2M126.22 387.68V392.88M124.62 387.68h3.2M124.62 392.88h3.2M140.43 377.61V382.81M138.83 377.61h3.2M138.83 382.81h3.2M154.64 378.62V383.82M153.04 378.62h3.2M153.04 383.82h3.2M168.86 389.70V394.90M167.26 389.70h3.2M167.26 394.90h3.2M183.07 410.34V415.54M181.47 410.34h3.2M181.47 415.54h3.2M197.28 435.14V449.14M195.68 435.14h3.2M195.68 449.14h3.2M211.50 452.47V467.07M209.90 452.47h3.2M209.90 467.07h3.2M225.71 474.29V479.49M224.11 474.29h3.2M224.11 479.49h3.2M239.92 482.36V492.16M238.32 482.36h3.2M238.32 492.16h3.2M254.13 490.20V495.40M252.53 490.20h3.2M252.53 495.40h3.2M268.35 493.72V498.92M266.75 493.72h3.2M266.75 498.92h3.2" stroke="#8B0A0A" stroke-width="1" fill="none"/>
<path d="M40.94 488.48V493.68M39.34 488.48h3.2M39.34 493.68h3.2M55.15 503.99V509.19M53.55 503.99h3.2M53.55 509.19h3.2M69.37 509.33V514.53M67.77 509.33h3.2M67.77 514.53h3.2M83.58 509.53V514.73M81.98 509.53h3.2M81.98 514.73h3.2M97.79 461.73V475.33M96.19 461.73h3.2M96.19 475.33h3.2M112.00 420.21V425.41M110.41 420.21h3.2M110.41 425.41h3.2M126.22 397.75V402.95M124.62 397.75h3.2M124.62 402.95h3.2M140.43 388.69V393.89M138.83 388.69h3.2M138.83 393.89h3.2M154.64 379.63V384.83M153.04 379.63h3.2M153.04 384.83h3.2M168.86 378.62V383.82M167.26 378.62h3.2M167.26 383.82h3.2M183.07 379.03V386.03M181.47 379.03h3.2M181.47 386.03h3.2M197.28 384.98V395.58M195.68 384.98h3.2M195.68 395.58h3.2M211.50 393.73V398.93M209.90 393.73h3.2M209.90 398.93h3.2M225.71 404.12V414.72M224.11 404.12h3.2M224.11 414.72h3.2M239.92 420.64V434.64M238.32 420.64h3.2M238.32 434.64h3.2M254.13 448.32V458.12M252.53 448.32h3.2M252.53 458.12h3.2M268.35 475.59V480.79M266.75 475.59h3.2M266.75 480.79h3.2" stroke="#3F6FE0" stroke-width="1" fill="none"/>
<path d="M40.94 496.84V502.04M39.34 496.84h3.2M39.34 502.04h3.2M55.15 492.27V514.27M53.55 492.27h3.2M53.55 514.27h3.2M69.37 508.72V513.92M67.77 508.72h3.2M67.77 513.92h3.2M83.58 508.72V513.92M81.98 508.72h3.2M81.98 513.92h3.2M97.79 465.32V470.52M96.19 465.32h3.2M96.19 470.52h3.2M112.00 401.79V408.99M110.41 401.79h3.2M110.41 408.99h3.2M126.22 381.14V386.34M124.62 381.14h3.2M124.62 386.34h3.2M140.43 381.64V386.84M138.83 381.64h3.2M138.83 386.84h3.2M154.64 392.73V402.73M153.04 392.73h3.2M153.04 402.73h3.2M168.86 400.77V405.97M167.26 400.77h3.2M167.26 405.97h3.2M183.07 412.86V418.06M181.47 412.86h3.2M181.47 418.06h3.2M197.28 425.45V430.65M195.68 425.45h3.2M195.68 430.65h3.2M211.50 439.67V451.67M209.90 439.67h3.2M209.90 451.67h3.2M225.71 464.52V469.72M224.11 464.52h3.2M224.11 469.72h3.2M239.92 478.31V483.51M238.32 478.31h3.2M238.32 483.51h3.2M254.13 484.99V498.99M252.53 484.99h3.2M252.53 498.99h3.2M268.35 493.02V498.22M266.75 493.02h3.2M266.75 498.22h3.2" stroke="#FFA200" stroke-width="1" fill="none"/>
<path d="M39.44 500.26h3v3h-3zM53.65 501.57h3v3h-3zM67.87 506.20h3v3h-3zM82.08 503.88h3v3h-3zM96.29 512.14h3v3h-3zM110.50 511.74h3v3h-3zM124.72 506.00h3v3h-3zM138.93 495.53h3v3h-3zM153.14 457.26h3v3h-3zM167.36 420.00h3v3h-3zM181.57 391.80h3v3h-3zM195.78 379.32h3v3h-3zM210.00 384.76h3v3h-3zM224.21 406.91h3v3h-3zM238.42 435.11h3v3h-3zM252.63 462.90h3v3h-3zM266.85 483.64h3v3h-3z" fill="#2E8B57"/>
<path d="M39.44 495.53h3v3h-3zM53.65 503.58h3v3h-3zM67.87 508.62h3v3h-3zM82.08 509.22h3v3h-3zM96.29 480.12h3v3h-3zM110.50 430.67h3v3h-3zM124.72 401.87h3v3h-3zM138.93 386.77h3v3h-3zM153.14 378.71h3v3h-3zM167.36 379.72h3v3h-3zM181.57 389.79h3v3h-3zM195.78 403.89h3v3h-3zM210.00 420.00h3v3h-3zM224.21 435.81h3v3h-3zM238.42 451.72h3v3h-3zM252.63 471.86h3v3h-3zM266.85 486.46h3v3h-3z" fill="#333333"/>
<path d="M39.44 486.46h3v3h-3zM53.65 502.57h3v3h-3zM67.87 503.88h3v3h-3zM82.08 503.28h3v3h-3zM96.29 496.73h3v3h-3zM110.50 463.30h3v3h-3zM124.72 415.97h3v3h-3zM138.93 391.80h3v3h-3zM153.14 378.11h3v3h-3zM167.36 384.76h3v3h-3zM181.57 394.83h3v3h-3zM195.78 419.60h3v3h-3zM210.00 445.58h3v3h-3zM224.21 459.37h3v3h-3zM238.42 477.40h3v3h-3zM252.63 485.05h3v3h-3zM266.85 493.41h3v3h-3z" fill="#FF00FF"/>
<path d="M39.44 490.49h3v3h-3zM53.65 503.58h3v3h-3zM67.87 511.03h3v3h-3zM82.08 513.35h3v3h-3zM96.29 490.79h3v3h-3zM110.50 438.13h3v3h-3zM124.72 393.82h3v3h-3zM138.93 378.11h3v3h-3zM153.14 379.72h3v3h-3zM167.36 393.82h3v3h-3zM181.57 405.90h3v3h-3zM195.78 418.99h3v3h-3zM210.00 430.27h3v3h-3zM224.21 437.22h3v3h-3zM238.42 447.59h3v3h-3zM252.63 462.29h3v3h-3zM266.85 479.41h3v3h-3z" fill="#9400D3"/>
<path d="M39.44 501.57h3v3h-3zM53.65 503.08h3v3h-3zM67.87 507.41h3v3h-3zM82.08 504.59h3v3h-3zM96.29 476.49h3v3h-3zM110.50 425.44h3v3h-3zM124.72 388.78h3v3h-3zM138.93 378.71h3v3h-3zM153.14 379.72h3v3h-3zM167.36 390.80h3v3h-3zM181.57 411.44h3v3h-3zM195.78 440.64h3v3h-3zM210.00 458.27h3v3h-3zM224.21 475.39h3v3h-3zM238.42 485.76h3v3h-3zM252.63 491.30h3v3h-3zM266.85 494.82h3v3h-3z" fill="#8B0A0A"/>
<path d="M39.44 489.58h3v3h-3zM53.65 505.09h3v3h-3zM67.87 510.43h3v3h-3zM82.08 510.63h3v3h-3zM96.29 467.03h3v3h-3zM110.50 421.31h3v3h-3zM124.72 398.85h3v3h-3zM138.93 389.79h3v3h-3zM153.14 380.73h3v3h-3zM167.36 379.72h3v3h-3zM181.57 381.03h3v3h-3zM195.78 388.78h3v3h-3zM210.00 394.83h3v3h-3zM224.21 407.92h3v3h-3zM238.42 426.14h3v3h-3zM252.63 451.72h3v3h-3zM266.85 476.69h3v3h-3z" fill="#3F6FE0"/>
<path d="M39.44 497.94h3v3h-3zM53.65 501.77h3v3h-3zM67.87 509.82h3v3h-3zM82.08 509.82h3v3h-3zM96.29 466.42h3v3h-3zM110.50 403.89h3v3h-3zM124.72 382.24h3v3h-3zM138.93 382.74h3v3h-3zM153.14 396.23h3v3h-3zM167.36 401.87h3v3h-3zM181.57 413.96h3v3h-3zM195.78 426.55h3v3h-3zM210.00 444.17h3v3h-3zM224.21 465.62h3v3h-3zM238.42 479.41h3v3h-3zM252.63 490.49h3v3h-3zM266.85 494.12h3v3h-3z" fill="#FFA200"/>
</g>
<g clip-path="url(#cAb)">
<polyline points="40.94,606.95 55.15,608.37 69.37,611.69 83.58,614.53 97.79,617.37 112.00,617.85 126.22,613.58 140.43,599.37 154.64,577.10 168.86,560.28 183.07,561.47 197.28,572.37 211.50,598.42 225.71,634.43 239.92,661.43 254.13,682.75 268.35,694.59" fill="none" stroke="#2E8B57" stroke-width="1.3" stroke-linejoin="round"/>
<polyline points="40.94,608.84 55.15,612.16 69.37,616.42 83.58,615.95 97.79,590.84 112.00,566.21 126.22,557.68 140.43,562.89 154.64,567.15 168.86,589.42 183.07,613.58 197.28,634.43 211.50,650.06 225.71,665.69 239.92,675.64 254.13,688.67 268.35,694.12" fill="none" stroke="#333333" stroke-width="1.3" stroke-linejoin="round"/>
<polyline points="40.94,608.37 55.15,610.27 69.37,615.48 83.58,615.95 97.79,603.40 112.00,581.37 126.22,564.31 140.43,567.15 154.64,571.42 168.86,598.42 183.07,624.95 197.28,647.69 211.50,669.96 225.71,680.10 239.92,691.28 254.13,695.54 268.35,698.10" fill="none" stroke="#FF00FF" stroke-width="1.3" stroke-linejoin="round"/>
<polyline points="40.94,608.37 55.15,606.95 69.37,617.37 83.58,617.37 97.79,596.53 112.00,567.15 126.22,557.68 140.43,573.79 154.64,594.63 168.86,618.79 183.07,635.14 197.28,649.11 211.50,658.59 225.71,664.75 239.92,673.27 254.13,682.75 268.35,693.17" fill="none" stroke="#9400D3" stroke-width="1.3" stroke-linejoin="round"/>
<polyline points="40.94,608.84 55.15,610.27 69.37,615.48 83.58,615.95 97.79,587.67 112.00,563.84 126.22,560.05 140.43,568.10 154.64,590.84 168.86,613.11 183.07,640.59 197.28,668.06 211.50,680.10 225.71,692.22 239.92,695.54 254.13,699.80 268.35,702.41" fill="none" stroke="#8B0A0A" stroke-width="1.3" stroke-linejoin="round"/>
<polyline points="40.94,608.84 55.15,612.63 69.37,617.37 83.58,615.95 97.79,580.42 112.00,561.94 126.22,559.10 140.43,561.94 154.64,563.84 168.86,573.79 183.07,585.39 197.28,603.63 211.50,619.74 225.71,635.37 239.92,654.32 254.13,674.22 268.35,691.28" fill="none" stroke="#3F6FE0" stroke-width="1.3" stroke-linejoin="round"/>
<polyline points="40.94,610.27 55.15,609.79 69.37,616.42 83.58,613.58 97.79,581.84 112.00,559.81 126.22,570.47 140.43,598.89 154.64,623.53 168.86,631.58 183.07,643.90 197.28,658.59 211.50,673.27 225.71,687.96 239.92,693.17 254.13,698.86 268.35,700.75" fill="none" stroke="#FFA200" stroke-width="1.3" stroke-linejoin="round"/>
<path d="M40.94 605.45V608.45M39.34 605.45h3.2M39.34 608.45h3.2M55.15 606.87V609.87M53.55 606.87h3.2M53.55 609.87h3.2M69.37 610.19V613.19M67.77 610.19h3.2M67.77 613.19h3.2M83.58 613.03V616.03M81.98 613.03h3.2M81.98 616.03h3.2M97.79 615.87V618.87M96.19 615.87h3.2M96.19 618.87h3.2M112.00 616.35V619.35M110.41 616.35h3.2M110.41 619.35h3.2M126.22 612.08V615.08M124.62 612.08h3.2M124.62 615.08h3.2M140.43 597.87V600.87M138.83 597.87h3.2M138.83 600.87h3.2M154.64 574.60V579.60M153.04 574.60h3.2M153.04 579.60h3.2M168.86 558.08V562.48M167.26 558.08h3.2M167.26 562.48h3.2M183.07 559.27V563.67M181.47 559.27h3.2M181.47 563.67h3.2M197.28 570.16V574.57M195.68 570.16h3.2M195.68 574.57h3.2M211.50 589.02V607.82M209.90 589.02h3.2M209.90 607.82h3.2M225.71 626.73V642.13M224.11 626.73h3.2M224.11 642.13h3.2M239.92 656.73V666.13M238.32 656.73h3.2M238.32 666.13h3.2M254.13 680.55V684.95M252.53 680.55h3.2M252.53 684.95h3.2M268.35 692.39V696.79M266.75 692.39h3.2M266.75 696.79h3.2" stroke="#2E8B57" stroke-width="1" fill="none"/>
<path d="M40.94 606.64V611.04M39.34 606.64h3.2M39.34 611.04h3.2M55.15 609.96V614.36M53.55 609.96h3.2M53.55 614.36h3.2M69.37 614.22V618.62M67.77 614.22h3.2M67.77 618.62h3.2M83.58 613.75V618.15M81.98 613.75h3.2M81.98 618.15h3.2M97.79 588.64V593.04M96.19 588.64h3.2M96.19 593.04h3.2M112.00 564.01V568.41M110.41 564.01h3.2M110.41 568.41h3.2M126.22 554.08V561.28M124.62 554.08h3.2M124.62 561.28h3.2M140.43 560.69V565.09M138.83 560.69h3.2M138.83 565.09h3.2M154.64 564.95V569.35M153.04 564.95h3.2M153.04 569.35h3.2M168.86 584.12V594.72M167.26 584.12h3.2M167.26 594.72h3.2M183.07 611.38V615.78M181.47 611.38h3.2M181.47 615.78h3.2M197.28 632.23V636.63M195.68 632.23h3.2M195.68 636.63h3.2M211.50 643.16V656.96M209.90 643.16h3.2M209.90 656.96h3.2M225.71 656.69V674.69M224.11 656.69h3.2M224.11 674.69h3.2M239.92 666.24V685.04M238.32 666.24h3.2M238.32 685.04h3.2M254.13 678.37V698.97M252.53 678.37h3.2M252.53 698.97h3.2M268.35 691.92V696.32M266.75 691.92h3.2M266.75 696.32h3.2" stroke="#333333" stroke-width="1" fill="none"/>
<path d="M40.94 606.17V610.57M39.34 606.17h3.2M39.34 610.57h3.2M55.15 608.07V612.47M53.55 608.07h3.2M53.55 612.47h3.2M69.37 613.28V617.68M67.77 613.28h3.2M67.77 617.68h3.2M83.58 613.75V618.15M81.98 613.75h3.2M81.98 618.15h3.2M97.79 599.00V607.80M96.19 599.00h3.2M96.19 607.80h3.2M112.00 579.17V583.57M110.41 579.17h3.2M110.41 583.57h3.2M126.22 562.11V566.51M124.62 562.11h3.2M124.62 566.51h3.2M140.43 563.35V570.95M138.83 563.35h3.2M138.83 570.95h3.2M154.64 569.22V573.62M153.04 569.22h3.2M153.04 573.62h3.2M168.86 590.92V605.92M167.26 590.92h3.2M167.26 605.92h3.2M183.07 618.95V630.95M181.47 618.95h3.2M181.47 630.95h3.2M197.28 641.69V653.69M195.68 641.69h3.2M195.68 653.69h3.2M211.50 667.76V672.16M209.90 667.76h3.2M209.90 672.16h3.2M225.71 673.20V687.00M224.11 673.20h3.2M224.11 687.00h3.2M239.92 689.08V693.48M238.32 689.08h3.2M238.32 693.48h3.2M254.13 693.34V697.74M252.53 693.34h3.2M252.53 697.74h3.2M268.35 695.90V700.30M266.75 695.90h3.2M266.75 700.30h3.2" stroke="#FF00FF" stroke-width="1" fill="none"/>
<path d="M40.94 606.17V610.57M39.34 606.17h3.2M39.34 610.57h3.2M55.15 604.75V609.15M53.55 604.75h3.2M53.55 609.15h3.2M69.37 615.17V619.57M67.77 615.17h3.2M67.77 619.57h3.2M83.58 615.17V619.57M81.98 615.17h3.2M81.98 619.57h3.2M97.79 594.33V598.73M96.19 594.33h3.2M96.19 598.73h3.2M112.00 564.95V569.35M110.41 564.95h3.2M110.41 569.35h3.2M126.22 555.18V560.18M124.62 555.18h3.2M124.62 560.18h3.2M140.43 568.59V578.99M138.83 568.59h3.2M138.83 578.99h3.2M154.64 588.83V600.43M153.04 588.83h3.2M153.04 600.43h3.2M168.86 616.59V620.99M167.26 616.59h3.2M167.26 620.99h3.2M183.07 632.94V637.34M181.47 632.94h3.2M181.47 637.34h3.2M197.28 646.91V651.31M195.68 646.91h3.2M195.68 651.31h3.2M211.50 656.39V660.79M209.90 656.39h3.2M209.90 660.79h3.2M225.71 657.85V671.65M224.11 657.85h3.2M224.11 671.65h3.2M239.92 668.17V678.37M238.32 668.17h3.2M238.32 678.37h3.2M254.13 680.55V684.95M252.53 680.55h3.2M252.53 684.95h3.2M268.35 690.97V695.37M266.75 690.97h3.2M266.75 695.37h3.2" stroke="#9400D3" stroke-width="1" fill="none"/>
<path d="M40.94 606.64V611.04M39.34 606.64h3.2M39.34 611.04h3.2M55.15 608.07V612.47M53.55 608.07h3.2M53.55 612.47h3.2M69.37 613.28V617.68M67.77 613.28h3.2M67.77 617.68h3.2M83.58 613.75V618.15M81.98 613.75h3.2M81.98 618.15h3.2M97.79 585.47V589.87M96.19 585.47h3.2M96.19 589.87h3.2M112.00 561.64V566.04M110.41 561.64h3.2M110.41 566.04h3.2M126.22 557.85V562.25M124.62 557.85h3.2M124.62 562.25h3.2M140.43 565.90V570.30M138.83 565.90h3.2M138.83 570.30h3.2M154.64 588.64V593.04M153.04 588.64h3.2M153.04 593.04h3.2M168.86 610.91V615.31M167.26 610.91h3.2M167.26 615.31h3.2M183.07 638.38V642.79M181.47 638.38h3.2M181.47 642.79h3.2M197.28 662.56V673.56M195.68 662.56h3.2M195.68 673.56h3.2M211.50 675.00V685.20M209.90 675.00h3.2M209.90 685.20h3.2M225.71 686.22V698.22M224.11 686.22h3.2M224.11 698.22h3.2M239.92 693.34V697.74M238.32 693.34h3.2M238.32 697.74h3.2M254.13 697.60V702.00M252.53 697.60h3.2M252.53 702.00h3.2M268.35 700.21V704.61M266.75 700.21h3.2M266.75 704.61h3.2" stroke="#8B0A0A" stroke-width="1" fill="none"/>
<path d="M40.94 606.64V611.04M39.34 606.64h3.2M39.34 611.04h3.2M55.15 610.43V614.83M53.55 610.43h3.2M53.55 614.83h3.2M69.37 615.17V619.57M67.77 615.17h3.2M67.77 619.57h3.2M83.58 613.75V618.15M81.98 613.75h3.2M81.98 618.15h3.2M97.79 578.22V582.62M96.19 578.22h3.2M96.19 582.62h3.2M112.00 559.74V564.14M110.41 559.74h3.2M110.41 564.14h3.2M126.22 556.90V561.30M124.62 556.90h3.2M124.62 561.30h3.2M140.43 559.74V564.14M138.83 559.74h3.2M138.83 564.14h3.2M154.64 561.64V566.04M153.04 561.64h3.2M153.04 566.04h3.2M168.86 570.29V577.29M167.26 570.29h3.2M167.26 577.29h3.2M183.07 578.49V592.29M181.47 578.49h3.2M181.47 592.29h3.2M197.28 597.63V609.63M195.68 597.63h3.2M195.68 609.63h3.2M211.50 617.54V621.94M209.90 617.54h3.2M209.90 621.94h3.2M225.71 633.17V637.57M224.11 633.17h3.2M224.11 637.57h3.2M239.92 650.92V657.72M238.32 650.92h3.2M238.32 657.72h3.2M254.13 669.92V678.52M252.53 669.92h3.2M252.53 678.52h3.2M268.35 689.08V693.48M266.75 689.08h3.2M266.75 693.48h3.2" stroke="#3F6FE0" stroke-width="1" fill="none"/>
<path d="M40.94 608.07V612.47M39.34 608.07h3.2M39.34 612.47h3.2M55.15 607.59V611.99M53.55 607.59h3.2M53.55 611.99h3.2M69.37 612.92V619.92M67.77 612.92h3.2M67.77 619.92h3.2M83.58 611.38V615.78M81.98 611.38h3.2M81.98 615.78h3.2M97.79 576.14V587.54M96.19 576.14h3.2M96.19 587.54h3.2M112.00 557.61V562.01M110.41 557.61h3.2M110.41 562.01h3.2M126.22 568.27V572.67M124.62 568.27h3.2M124.62 572.67h3.2M140.43 593.60V604.19M138.83 593.60h3.2M138.83 604.19h3.2M154.64 616.63V630.43M153.04 616.63h3.2M153.04 630.43h3.2M168.86 628.48V634.68M167.26 628.48h3.2M167.26 634.68h3.2M183.07 641.70V646.10M181.47 641.70h3.2M181.47 646.10h3.2M197.28 655.09V662.09M195.68 655.09h3.2M195.68 662.09h3.2M211.50 668.97V677.57M209.90 668.97h3.2M209.90 677.57h3.2M225.71 685.76V690.16M224.11 685.76h3.2M224.11 690.16h3.2M239.92 690.97V695.37M238.32 690.97h3.2M238.32 695.37h3.2M254.13 696.66V701.06M252.53 696.66h3.2M252.53 701.06h3.2M268.35 698.55V702.95M266.75 698.55h3.2M266.75 702.95h3.2" stroke="#FFA200" stroke-width="1" fill="none"/>
<path d="M39.44 605.45h3v3h-3zM53.65 606.87h3v3h-3zM67.87 610.19h3v3h-3zM82.08 613.03h3v3h-3zM96.29 615.87h3v3h-3zM110.50 616.35h3v3h-3zM124.72 612.08h3v3h-3zM138.93 597.87h3v3h-3zM153.14 575.60h3v3h-3zM167.36 558.78h3v3h-3zM181.57 559.97h3v3h-3zM195.78 570.87h3v3h-3zM210.00 596.92h3v3h-3zM224.21 632.93h3v3h-3zM238.42 659.93h3v3h-3zM252.63 681.25h3v3h-3zM266.85 693.09h3v3h-3z" fill="#2E8B57"/>
<path d="M39.44 607.34h3v3h-3zM53.65 610.66h3v3h-3zM67.87 614.92h3v3h-3zM82.08 614.45h3v3h-3zM96.29 589.34h3v3h-3zM110.50 564.71h3v3h-3zM124.72 556.18h3v3h-3zM138.93 561.39h3v3h-3zM153.14 565.65h3v3h-3zM167.36 587.92h3v3h-3zM181.57 612.08h3v3h-3zM195.78 632.93h3v3h-3zM210.00 648.56h3v3h-3zM224.21 664.19h3v3h-3zM238.42 674.14h3v3h-3zM252.63 687.17h3v3h-3zM266.85 692.62h3v3h-3z" fill="#333333"/>
<path d="M39.44 606.87h3v3h-3zM53.65 608.77h3v3h-3zM67.87 613.98h3v3h-3zM82.08 614.45h3v3h-3zM96.29 601.90h3v3h-3zM110.50 579.87h3v3h-3zM124.72 562.81h3v3h-3zM138.93 565.65h3v3h-3zM153.14 569.92h3v3h-3zM167.36 596.92h3v3h-3zM181.57 623.45h3v3h-3zM195.78 646.19h3v3h-3zM210.00 668.46h3v3h-3zM224.21 678.60h3v3h-3zM238.42 689.78h3v3h-3zM252.63 694.04h3v3h-3zM266.85 696.60h3v3h-3z" fill="#FF00FF"/>
<path d="M39.44 606.87h3v3h-3zM53.65 605.45h3v3h-3zM67.87 615.87h3v3h-3zM82.08 615.87h3v3h-3zM96.29 595.03h3v3h-3zM110.50 565.65h3v3h-3zM124.72 556.18h3v3h-3zM138.93 572.29h3v3h-3zM153.14 593.13h3v3h-3zM167.36 617.29h3v3h-3zM181.57 633.64h3v3h-3zM195.78 647.61h3v3h-3zM210.00 657.09h3v3h-3zM224.21 663.25h3v3h-3zM238.42 671.77h3v3h-3zM252.63 681.25h3v3h-3zM266.85 691.67h3v3h-3z" fill="#9400D3"/>
<path d="M39.44 607.34h3v3h-3zM53.65 608.77h3v3h-3zM67.87 613.98h3v3h-3zM82.08 614.45h3v3h-3zM96.29 586.17h3v3h-3zM110.50 562.34h3v3h-3zM124.72 558.55h3v3h-3zM138.93 566.60h3v3h-3zM153.14 589.34h3v3h-3zM167.36 611.61h3v3h-3zM181.57 639.09h3v3h-3zM195.78 666.56h3v3h-3zM210.00 678.60h3v3h-3zM224.21 690.72h3v3h-3zM238.42 694.04h3v3h-3zM252.63 698.30h3v3h-3zM266.85 700.91h3v3h-3z" fill="#8B0A0A"/>
<path d="M39.44 607.34h3v3h-3zM53.65 611.13h3v3h-3zM67.87 615.87h3v3h-3zM82.08 614.45h3v3h-3zM96.29 578.92h3v3h-3zM110.50 560.44h3v3h-3zM124.72 557.60h3v3h-3zM138.93 560.44h3v3h-3zM153.14 562.34h3v3h-3zM167.36 572.29h3v3h-3zM181.57 583.89h3v3h-3zM195.78 602.13h3v3h-3zM210.00 618.24h3v3h-3zM224.21 633.87h3v3h-3zM238.42 652.82h3v3h-3zM252.63 672.72h3v3h-3zM266.85 689.78h3v3h-3z" fill="#3F6FE0"/>
<path d="M39.44 608.77h3v3h-3zM53.65 608.29h3v3h-3zM67.87 614.92h3v3h-3zM82.08 612.08h3v3h-3zM96.29 580.34h3v3h-3zM110.50 558.31h3v3h-3zM124.72 568.97h3v3h-3zM138.93 597.39h3v3h-3zM153.14 622.03h3v3h-3zM167.36 630.08h3v3h-3zM181.57 642.40h3v3h-3zM195.78 657.09h3v3h-3zM210.00 671.77h3v3h-3zM224.21 686.46h3v3h-3zM238.42 691.67h3v3h-3zM252.63 697.36h3v3h-3zM266.85 699.25h3v3h-3z" fill="#FFA200"/>
</g>
<polyline points="41.5,165.5 41.5,341.1 282.5,341.1 282.5,165.5" fill="none" stroke="#3d3d3d" stroke-width="1.2"/>
<rect x="41.5" y="353.4" width="241.0" height="176.5" fill="none" stroke="#3d3d3d" stroke-width="1.2"/>
<rect x="41.5" y="541.9" width="241.0" height="175.89999999999998" fill="none" stroke="#3d3d3d" stroke-width="1.2"/>
<line x1="39.0" y1="172.40" x2="41.5" y2="172.40" stroke="#1a1a1a" stroke-width="1.3"/>
<text transform="translate(36.20 177.60) scale(1.1 1)" font-size="12.5" text-anchor="end" stroke="#1a1a1a" stroke-width="0.3" fill="#1a1a1a">75</text>
<line x1="39.0" y1="199.25" x2="41.5" y2="199.25" stroke="#1a1a1a" stroke-width="1.3"/>
<text transform="translate(36.20 204.45) scale(1.1 1)" font-size="12.5" text-anchor="end" stroke="#1a1a1a" stroke-width="0.3" fill="#1a1a1a">65</text>
<line x1="39.0" y1="226.10" x2="41.5" y2="226.10" stroke="#1a1a1a" stroke-width="1.3"/>
<text transform="translate(36.20 231.30) scale(1.1 1)" font-size="12.5" text-anchor="end" stroke="#1a1a1a" stroke-width="0.3" fill="#1a1a1a">55</text>
<line x1="39.0" y1="252.95" x2="41.5" y2="252.95" stroke="#1a1a1a" stroke-width="1.3"/>
<text transform="translate(36.20 258.15) scale(1.1 1)" font-size="12.5" text-anchor="end" stroke="#1a1a1a" stroke-width="0.3" fill="#1a1a1a">45</text>
<line x1="39.0" y1="279.80" x2="41.5" y2="279.80" stroke="#1a1a1a" stroke-width="1.3"/>
<text transform="translate(36.20 285.00) scale(1.1 1)" font-size="12.5" text-anchor="end" stroke="#1a1a1a" stroke-width="0.3" fill="#1a1a1a">35</text>
<line x1="39.0" y1="306.65" x2="41.5" y2="306.65" stroke="#1a1a1a" stroke-width="1.3"/>
<text transform="translate(36.20 311.85) scale(1.1 1)" font-size="12.5" text-anchor="end" stroke="#1a1a1a" stroke-width="0.3" fill="#1a1a1a">25</text>
<line x1="39.0" y1="333.50" x2="41.5" y2="333.50" stroke="#1a1a1a" stroke-width="1.3"/>
<text transform="translate(36.20 338.70) scale(1.1 1)" font-size="12.5" text-anchor="end" stroke="#1a1a1a" stroke-width="0.3" fill="#1a1a1a">15</text>
<line x1="39.0" y1="361.08" x2="41.5" y2="361.08" stroke="#1a1a1a" stroke-width="1.3"/>
<text transform="translate(36.20 365.48) scale(1.1 1)" font-size="12.5" text-anchor="end" stroke="#1a1a1a" stroke-width="0.3" fill="#1a1a1a">16</text>
<line x1="39.0" y1="401.36" x2="41.5" y2="401.36" stroke="#1a1a1a" stroke-width="1.3"/>
<text transform="translate(36.20 405.76) scale(1.1 1)" font-size="12.5" text-anchor="end" stroke="#1a1a1a" stroke-width="0.3" fill="#1a1a1a">12</text>
<line x1="39.0" y1="441.64" x2="41.5" y2="441.64" stroke="#1a1a1a" stroke-width="1.3"/>
<text transform="translate(36.20 446.04) scale(1.1 1)" font-size="12.5" text-anchor="end" stroke="#1a1a1a" stroke-width="0.3" fill="#1a1a1a">8</text>
<line x1="39.0" y1="481.92" x2="41.5" y2="481.92" stroke="#1a1a1a" stroke-width="1.3"/>
<text transform="translate(36.20 486.32) scale(1.1 1)" font-size="12.5" text-anchor="end" stroke="#1a1a1a" stroke-width="0.3" fill="#1a1a1a">4</text>
<line x1="39.0" y1="522.20" x2="41.5" y2="522.20" stroke="#1a1a1a" stroke-width="1.3"/>
<text transform="translate(36.20 526.60) scale(1.1 1)" font-size="12.5" text-anchor="end" stroke="#1a1a1a" stroke-width="0.3" fill="#1a1a1a">0</text>
<line x1="39.0" y1="559.10" x2="41.5" y2="559.10" stroke="#1a1a1a" stroke-width="1.3"/>
<text transform="translate(36.20 563.30) scale(1.1 1)" font-size="12.5" text-anchor="end" stroke="#1a1a1a" stroke-width="0.3" fill="#1a1a1a">32</text>
<line x1="39.0" y1="597.00" x2="41.5" y2="597.00" stroke="#1a1a1a" stroke-width="1.3"/>
<text transform="translate(36.20 601.20) scale(1.1 1)" font-size="12.5" text-anchor="end" stroke="#1a1a1a" stroke-width="0.3" fill="#1a1a1a">24</text>
<line x1="39.0" y1="634.90" x2="41.5" y2="634.90" stroke="#1a1a1a" stroke-width="1.3"/>
<text transform="translate(36.20 639.10) scale(1.1 1)" font-size="12.5" text-anchor="end" stroke="#1a1a1a" stroke-width="0.3" fill="#1a1a1a">16</text>
<line x1="39.0" y1="672.80" x2="41.5" y2="672.80" stroke="#1a1a1a" stroke-width="1.3"/>
<text transform="translate(36.20 677.00) scale(1.1 1)" font-size="12.5" text-anchor="end" stroke="#1a1a1a" stroke-width="0.3" fill="#1a1a1a">8</text>
<line x1="39.0" y1="710.70" x2="41.5" y2="710.70" stroke="#1a1a1a" stroke-width="1.3"/>
<text transform="translate(36.20 714.90) scale(1.1 1)" font-size="12.5" text-anchor="end" stroke="#1a1a1a" stroke-width="0.3" fill="#1a1a1a">0</text>
<line x1="69.37" y1="717.8" x2="69.37" y2="720.3" stroke="#1a1a1a" stroke-width="1.3"/>
<text transform="translate(69.37 732.20) scale(1.06 1)" font-size="12.2" text-anchor="middle" stroke="#1a1a1a" stroke-width="0.3" fill="#1a1a1a">2</text>
<line x1="97.79" y1="717.8" x2="97.79" y2="720.3" stroke="#1a1a1a" stroke-width="1.3"/>
<text transform="translate(97.79 732.20) scale(1.06 1)" font-size="12.2" text-anchor="middle" stroke="#1a1a1a" stroke-width="0.3" fill="#1a1a1a">4</text>
<line x1="126.22" y1="717.8" x2="126.22" y2="720.3" stroke="#1a1a1a" stroke-width="1.3"/>
<text transform="translate(126.22 732.20) scale(1.06 1)" font-size="12.2" text-anchor="middle" stroke="#1a1a1a" stroke-width="0.3" fill="#1a1a1a">6</text>
<line x1="154.64" y1="717.8" x2="154.64" y2="720.3" stroke="#1a1a1a" stroke-width="1.3"/>
<text transform="translate(154.64 732.20) scale(1.06 1)" font-size="12.2" text-anchor="middle" stroke="#1a1a1a" stroke-width="0.3" fill="#1a1a1a">8</text>
<line x1="183.07" y1="717.8" x2="183.07" y2="720.3" stroke="#1a1a1a" stroke-width="1.3"/>
<text transform="translate(183.07 732.20) scale(1.06 1)" font-size="12.2" text-anchor="middle" stroke="#1a1a1a" stroke-width="0.3" fill="#1a1a1a">10</text>
<line x1="211.50" y1="717.8" x2="211.50" y2="720.3" stroke="#1a1a1a" stroke-width="1.3"/>
<text transform="translate(211.50 732.20) scale(1.06 1)" font-size="12.2" text-anchor="middle" stroke="#1a1a1a" stroke-width="0.3" fill="#1a1a1a">12</text>
<line x1="239.92" y1="717.8" x2="239.92" y2="720.3" stroke="#1a1a1a" stroke-width="1.3"/>
<text transform="translate(239.92 732.20) scale(1.06 1)" font-size="12.2" text-anchor="middle" stroke="#1a1a1a" stroke-width="0.3" fill="#1a1a1a">14</text>
<line x1="268.35" y1="717.8" x2="268.35" y2="720.3" stroke="#1a1a1a" stroke-width="1.3"/>
<text transform="translate(268.35 732.20) scale(1.06 1)" font-size="12.2" text-anchor="middle" stroke="#1a1a1a" stroke-width="0.3" fill="#1a1a1a">16</text>
<text x="161.60" y="753.10" font-size="15" text-anchor="middle" stroke="#1a1a1a" stroke-width="0.3" textLength="144.7" lengthAdjust="spacingAndGlyphs" fill="#1a1a1a">Roasting Time (min)</text>
<text transform="translate(2.40 258.90) scale(1.06 1)" font-size="14.5" stroke="#1a1a1a" stroke-width="0.3" fill="#1a1a1a">L*</text>
<text transform="translate(2.40 446.10) scale(1.06 1)" font-size="14.5" stroke="#1a1a1a" stroke-width="0.3" fill="#1a1a1a">a*</text>
<text transform="translate(2.40 636.60) scale(1.06 1)" font-size="14.5" stroke="#1a1a1a" stroke-width="0.3" fill="#1a1a1a">b*</text>
<g clip-path="url(#cBL)">
<polyline points="381.85,207.31 396.06,205.96 410.28,198.71 424.49,194.15 438.70,190.66 452.91,186.36 467.12,184.75 481.34,182.87 495.55,192.81 509.76,197.10 523.98,224.76 538.19,252.41 552.40,277.12 566.61,298.60 580.83,313.36 595.04,321.42 609.25,331.35" fill="none" stroke="#50EE96" stroke-width="1.3" stroke-linejoin="round"/>
<polyline points="381.85,212.94 396.06,211.33 410.28,208.92 424.49,208.38 438.70,200.06 452.91,198.18 467.12,197.10 481.34,195.22 495.55,199.79 509.76,210.80 523.98,231.47 538.19,255.63 552.40,278.46 566.61,301.28 580.83,316.05 595.04,323.83 609.25,330.28" fill="none" stroke="#2E8B57" stroke-width="1.3" stroke-linejoin="round"/>
<polyline points="381.85,208.38 396.06,207.31 410.28,206.23 424.49,202.74 438.70,196.56 452.91,192.00 467.12,190.93 481.34,189.05 495.55,191.73 509.76,205.69 523.98,227.44 538.19,254.29 552.40,277.12 566.61,299.94 580.83,314.71 595.04,322.76 609.25,330.81" fill="none" stroke="#32C832" stroke-width="1.3" stroke-linejoin="round"/>
<polyline points="381.85,205.43 396.06,202.20 410.28,194.15 424.49,187.97 438.70,183.41 452.91,196.56 467.12,220.73 481.34,242.21 495.55,268.12 509.76,291.88 523.98,305.84 538.19,317.12 552.40,321.42 566.61,331.89 580.83,333.77 595.04,334.04 609.25,334.31" fill="none" stroke="#FF7F50" stroke-width="1.3" stroke-linejoin="round"/>
<polyline points="381.85,210.53 396.06,209.99 410.28,201.67 424.49,204.89 438.70,198.44 452.91,211.33 467.12,234.16 481.34,253.76 495.55,277.65 509.76,293.49 523.98,304.50 538.19,312.83 552.40,321.42 566.61,323.83 580.83,327.32 595.04,328.40 609.25,328.13" fill="none" stroke="#8B0A0A" stroke-width="1.3" stroke-linejoin="round"/>
<polyline points="381.85,208.65 396.06,208.65 410.28,201.67 424.49,195.22 438.70,185.29 452.91,202.74 467.12,225.56 481.34,250.80 495.55,276.04 509.76,294.03 523.98,305.31 538.19,315.51 552.40,324.10 566.61,328.40 580.83,330.81 595.04,330.55 609.25,334.84" fill="none" stroke="#F00A0A" stroke-width="1.3" stroke-linejoin="round"/>
<polyline points="381.85,203.81 396.06,200.59 410.28,192.00 424.49,190.12 438.70,193.61 452.91,200.59 467.12,215.09 481.34,228.25 495.55,237.91 509.76,247.85 523.98,260.74 538.19,275.50 552.40,288.12 566.61,297.52 580.83,305.04 595.04,313.90 609.25,324.37" fill="none" stroke="#0A0A8C" stroke-width="1.3" stroke-linejoin="round"/>
<polyline points="381.85,221.27 396.06,210.93 410.28,200.59 424.49,196.56 438.70,196.56 452.91,207.84 467.12,220.73 481.34,234.16 495.55,244.90 509.76,255.63 523.98,267.72 538.19,279.80 552.40,290.54 566.61,298.60 580.83,307.99 595.04,316.05 609.25,323.30" fill="none" stroke="#3F6FE0" stroke-width="1.3" stroke-linejoin="round"/>
<polyline points="381.85,205.96 396.06,204.89 410.28,197.64 424.49,193.61 438.70,194.42 452.91,205.43 467.12,226.91 481.34,233.35 495.55,243.55 509.76,256.17 523.98,268.25 538.19,281.68 552.40,291.88 566.61,301.01 580.83,309.60 595.04,318.46 609.25,326.52" fill="none" stroke="#5CB4F0" stroke-width="1.3" stroke-linejoin="round"/>
<path d="M381.85 204.91V209.71M380.25 204.91h3.2M380.25 209.71h3.2M396.06 203.56V208.36M394.46 203.56h3.2M394.46 208.36h3.2M410.28 196.31V201.11M408.68 196.31h3.2M408.68 201.11h3.2M424.49 191.75V196.55M422.89 191.75h3.2M422.89 196.55h3.2M438.70 188.26V193.06M437.10 188.26h3.2M437.10 193.06h3.2M452.91 183.96V188.76M451.31 183.96h3.2M451.31 188.76h3.2M467.12 182.35V187.15M465.52 182.35h3.2M465.52 187.15h3.2M481.34 179.87V185.87M479.74 179.87h3.2M479.74 185.87h3.2M495.55 180.51V205.11M493.95 180.51h3.2M493.95 205.11h3.2M509.76 191.80V202.40M508.16 191.80h3.2M508.16 202.40h3.2M523.98 222.36V227.16M522.38 222.36h3.2M522.38 227.16h3.2M538.19 250.01V254.81M536.59 250.01h3.2M536.59 254.81h3.2M552.40 274.72V279.51M550.80 274.72h3.2M550.80 279.51h3.2M566.61 296.20V301.00M565.01 296.20h3.2M565.01 301.00h3.2M580.83 310.96V315.76M579.23 310.96h3.2M579.23 315.76h3.2M595.04 319.02V323.82M593.44 319.02h3.2M593.44 323.82h3.2M609.25 328.95V333.75M607.65 328.95h3.2M607.65 333.75h3.2" stroke="#50EE96" stroke-width="1" fill="none"/>
<path d="M381.85 210.54V215.34M380.25 210.54h3.2M380.25 215.34h3.2M396.06 208.93V213.73M394.46 208.93h3.2M394.46 213.73h3.2M410.28 206.52V211.32M408.68 206.52h3.2M408.68 211.32h3.2M424.49 198.68V218.08M422.89 198.68h3.2M422.89 218.08h3.2M438.70 197.66V202.46M437.10 197.66h3.2M437.10 202.46h3.2M452.91 195.78V200.58M451.31 195.78h3.2M451.31 200.58h3.2M467.12 194.10V200.10M465.52 194.10h3.2M465.52 200.10h3.2M481.34 192.82V197.62M479.74 192.82h3.2M479.74 197.62h3.2M495.55 197.39V202.19M493.95 197.39h3.2M493.95 202.19h3.2M509.76 208.40V213.20M508.16 208.40h3.2M508.16 213.20h3.2M523.98 229.07V233.87M522.38 229.07h3.2M522.38 233.87h3.2M538.19 253.23V258.03M536.59 253.23h3.2M536.59 258.03h3.2M552.40 276.06V280.86M550.80 276.06h3.2M550.80 280.86h3.2M566.61 298.88V303.68M565.01 298.88h3.2M565.01 303.68h3.2M580.83 313.65V318.45M579.23 313.65h3.2M579.23 318.45h3.2M595.04 321.43V326.23M593.44 321.43h3.2M593.44 326.23h3.2M609.25 327.88V332.68M607.65 327.88h3.2M607.65 332.68h3.2" stroke="#2E8B57" stroke-width="1" fill="none"/>
<path d="M381.85 205.98V210.78M380.25 205.98h3.2M380.25 210.78h3.2M396.06 204.91V209.71M394.46 204.91h3.2M394.46 209.71h3.2M410.28 203.83V208.63M408.68 203.83h3.2M408.68 208.63h3.2M424.49 200.34V205.14M422.89 200.34h3.2M422.89 205.14h3.2M438.70 194.16V198.97M437.10 194.16h3.2M437.10 198.97h3.2M452.91 188.10V195.90M451.31 188.10h3.2M451.31 195.90h3.2M467.12 188.53V193.33M465.52 188.53h3.2M465.52 193.33h3.2M481.34 186.65V191.45M479.74 186.65h3.2M479.74 191.45h3.2M495.55 189.33V194.13M493.95 189.33h3.2M493.95 194.13h3.2M509.76 203.29V208.09M508.16 203.29h3.2M508.16 208.09h3.2M523.98 225.04V229.84M522.38 225.04h3.2M522.38 229.84h3.2M538.19 251.89V256.69M536.59 251.89h3.2M536.59 256.69h3.2M552.40 270.62V283.62M550.80 270.62h3.2M550.80 283.62h3.2M566.61 297.54V302.34M565.01 297.54h3.2M565.01 302.34h3.2M580.83 312.31V317.11M579.23 312.31h3.2M579.23 317.11h3.2M595.04 320.36V325.16M593.44 320.36h3.2M593.44 325.16h3.2M609.25 328.42V333.21M607.65 328.42h3.2M607.65 333.21h3.2" stroke="#32C832" stroke-width="1" fill="none"/>
<path d="M381.85 203.03V207.83M380.25 203.03h3.2M380.25 207.83h3.2M396.06 199.80V204.60M394.46 199.80h3.2M394.46 204.60h3.2M410.28 191.75V196.55M408.68 191.75h3.2M408.68 196.55h3.2M424.49 182.37V193.57M422.89 182.37h3.2M422.89 193.57h3.2M438.70 179.91V186.91M437.10 179.91h3.2M437.10 186.91h3.2M452.91 194.16V198.97M451.31 194.16h3.2M451.31 198.97h3.2M467.12 218.33V223.13M465.52 218.33h3.2M465.52 223.13h3.2M481.34 239.81V244.61M479.74 239.81h3.2M479.74 244.61h3.2M495.55 265.72V270.52M493.95 265.72h3.2M493.95 270.52h3.2M509.76 289.48V294.28M508.16 289.48h3.2M508.16 294.28h3.2M523.98 303.44V308.24M522.38 303.44h3.2M522.38 308.24h3.2M538.19 314.72V319.52M536.59 314.72h3.2M536.59 319.52h3.2M552.40 315.02V327.82M550.80 315.02h3.2M550.80 327.82h3.2M566.61 329.49V334.29M565.01 329.49h3.2M565.01 334.29h3.2M580.83 331.37V336.17M579.23 331.37h3.2M579.23 336.17h3.2M595.04 327.94V340.14M593.44 327.94h3.2M593.44 340.14h3.2M609.25 328.81V339.81M607.65 328.81h3.2M607.65 339.81h3.2" stroke="#FF7F50" stroke-width="1" fill="none"/>
<path d="M381.85 208.13V212.93M380.25 208.13h3.2M380.25 212.93h3.2M396.06 207.59V212.39M394.46 207.59h3.2M394.46 212.39h3.2M410.28 199.27V204.07M408.68 199.27h3.2M408.68 204.07h3.2M424.49 198.29V211.49M422.89 198.29h3.2M422.89 211.49h3.2M438.70 196.04V200.84M437.10 196.04h3.2M437.10 200.84h3.2M452.91 208.93V213.73M451.31 208.93h3.2M451.31 213.73h3.2M467.12 228.66V239.66M465.52 228.66h3.2M465.52 239.66h3.2M481.34 251.36V256.16M479.74 251.36h3.2M479.74 256.16h3.2M495.55 275.25V280.05M493.95 275.25h3.2M493.95 280.05h3.2M509.76 291.09V295.89M508.16 291.09h3.2M508.16 295.89h3.2M523.98 302.10V306.90M522.38 302.10h3.2M522.38 306.90h3.2M538.19 310.43V315.23M536.59 310.43h3.2M536.59 315.23h3.2M552.40 319.02V323.82M550.80 319.02h3.2M550.80 323.82h3.2M566.61 318.53V329.13M565.01 318.53h3.2M565.01 329.13h3.2M580.83 324.92V329.72M579.23 324.92h3.2M579.23 329.72h3.2M595.04 326.00V330.80M593.44 326.00h3.2M593.44 330.80h3.2M609.25 325.73V330.53M607.65 325.73h3.2M607.65 330.53h3.2" stroke="#8B0A0A" stroke-width="1" fill="none"/>
<path d="M381.85 206.25V211.05M380.25 206.25h3.2M380.25 211.05h3.2M396.06 206.25V211.05M394.46 206.25h3.2M394.46 211.05h3.2M410.28 199.27V204.07M408.68 199.27h3.2M408.68 204.07h3.2M424.49 192.82V197.62M422.89 192.82h3.2M422.89 197.62h3.2M438.70 182.89V187.69M437.10 182.89h3.2M437.10 187.69h3.2M452.91 200.34V205.14M451.31 200.34h3.2M451.31 205.14h3.2M467.12 223.16V227.96M465.52 223.16h3.2M465.52 227.96h3.2M481.34 248.40V253.20M479.74 248.40h3.2M479.74 253.20h3.2M495.55 273.64V278.44M493.95 273.64h3.2M493.95 278.44h3.2M509.76 291.63V296.43M508.16 291.63h3.2M508.16 296.43h3.2M523.98 302.91V307.71M522.38 302.91h3.2M522.38 307.71h3.2M538.19 313.11V317.91M536.59 313.11h3.2M536.59 317.91h3.2M552.40 320.30V327.90M550.80 320.30h3.2M550.80 327.90h3.2M566.61 326.00V330.80M565.01 326.00h3.2M565.01 330.80h3.2M580.83 325.01V336.62M579.23 325.01h3.2M579.23 336.62h3.2M595.04 328.15V332.95M593.44 328.15h3.2M593.44 332.95h3.2M609.25 332.44V337.24M607.65 332.44h3.2M607.65 337.24h3.2" stroke="#F00A0A" stroke-width="1" fill="none"/>
<path d="M381.85 201.41V206.21M380.25 201.41h3.2M380.25 206.21h3.2M396.06 196.29V204.89M394.46 196.29h3.2M394.46 204.89h3.2M410.28 189.60V194.40M408.68 189.60h3.2M408.68 194.40h3.2M424.49 187.72V192.52M422.89 187.72h3.2M422.89 192.52h3.2M438.70 186.61V200.61M437.10 186.61h3.2M437.10 200.61h3.2M452.91 198.19V202.99M451.31 198.19h3.2M451.31 202.99h3.2M467.12 212.29V217.89M465.52 212.29h3.2M465.52 217.89h3.2M481.34 225.85V230.65M479.74 225.85h3.2M479.74 230.65h3.2M495.55 235.51V240.31M493.95 235.51h3.2M493.95 240.31h3.2M509.76 243.65V252.05M508.16 243.65h3.2M508.16 252.05h3.2M523.98 258.34V263.14M522.38 258.34h3.2M522.38 263.14h3.2M538.19 273.10V277.90M536.59 273.10h3.2M536.59 277.90h3.2M552.40 285.72V290.52M550.80 285.72h3.2M550.80 290.52h3.2M566.61 295.12V299.92M565.01 295.12h3.2M565.01 299.92h3.2M580.83 302.64V307.44M579.23 302.64h3.2M579.23 307.44h3.2M595.04 311.50V316.30M593.44 311.50h3.2M593.44 316.30h3.2M609.25 321.97V326.77M607.65 321.97h3.2M607.65 326.77h3.2" stroke="#0A0A8C" stroke-width="1" fill="none"/>
<path d="M381.85 218.87V223.67M380.25 218.87h3.2M380.25 223.67h3.2M396.06 208.53V213.33M394.46 208.53h3.2M394.46 213.33h3.2M410.28 198.19V202.99M408.68 198.19h3.2M408.68 202.99h3.2M424.49 194.16V198.97M422.89 194.16h3.2M422.89 198.97h3.2M438.70 194.16V198.97M437.10 194.16h3.2M437.10 198.97h3.2M452.91 205.44V210.24M451.31 205.44h3.2M451.31 210.24h3.2M467.12 218.33V223.13M465.52 218.33h3.2M465.52 223.13h3.2M481.34 228.16V240.16M479.74 228.16h3.2M479.74 240.16h3.2M495.55 242.50V247.30M493.95 242.50h3.2M493.95 247.30h3.2M509.76 253.23V258.03M508.16 253.23h3.2M508.16 258.03h3.2M523.98 265.32V270.12M522.38 265.32h3.2M522.38 270.12h3.2M538.19 277.40V282.20M536.59 277.40h3.2M536.59 282.20h3.2M552.40 288.14V292.94M550.80 288.14h3.2M550.80 292.94h3.2M566.61 296.20V301.00M565.01 296.20h3.2M565.01 301.00h3.2M580.83 305.59V310.39M579.23 305.59h3.2M579.23 310.39h3.2M595.04 313.65V318.45M593.44 313.65h3.2M593.44 318.45h3.2M609.25 320.90V325.70M607.65 320.90h3.2M607.65 325.70h3.2" stroke="#3F6FE0" stroke-width="1" fill="none"/>
<path d="M381.85 203.56V208.36M380.25 203.56h3.2M380.25 208.36h3.2M396.06 198.09V211.69M394.46 198.09h3.2M394.46 211.69h3.2M410.28 192.64V202.64M408.68 192.64h3.2M408.68 202.64h3.2M424.49 191.21V196.01M422.89 191.21h3.2M422.89 196.01h3.2M438.70 192.02V196.82M437.10 192.02h3.2M437.10 196.82h3.2M452.91 203.03V207.83M451.31 203.03h3.2M451.31 207.83h3.2M467.12 220.91V232.91M465.52 220.91h3.2M465.52 232.91h3.2M481.34 230.95V235.75M479.74 230.95h3.2M479.74 235.75h3.2M495.55 241.15V245.95M493.95 241.15h3.2M493.95 245.95h3.2M509.76 253.77V258.57M508.16 253.77h3.2M508.16 258.57h3.2M523.98 265.85V270.65M522.38 265.85h3.2M522.38 270.65h3.2M538.19 279.28V284.08M536.59 279.28h3.2M536.59 284.08h3.2M552.40 289.48V294.28M550.80 289.48h3.2M550.80 294.28h3.2M566.61 298.61V303.41M565.01 298.61h3.2M565.01 303.41h3.2M580.83 307.20V312.00M579.23 307.20h3.2M579.23 312.00h3.2M595.04 316.06V320.86M593.44 316.06h3.2M593.44 320.86h3.2M609.25 321.22V331.82M607.65 321.22h3.2M607.65 331.82h3.2" stroke="#5CB4F0" stroke-width="1" fill="none"/>
<path d="M380.35 205.81h3v3h-3zM394.56 204.46h3v3h-3zM408.78 197.21h3v3h-3zM422.99 192.65h3v3h-3zM437.20 189.16h3v3h-3zM451.41 184.86h3v3h-3zM465.62 183.25h3v3h-3zM479.84 181.37h3v3h-3zM494.05 191.31h3v3h-3zM508.26 195.60h3v3h-3zM522.48 223.26h3v3h-3zM536.69 250.91h3v3h-3zM550.90 275.62h3v3h-3zM565.11 297.10h3v3h-3zM579.33 311.86h3v3h-3zM593.54 319.92h3v3h-3zM607.75 329.85h3v3h-3z" fill="#50EE96"/>
<path d="M380.35 211.44h3v3h-3zM394.56 209.83h3v3h-3zM408.78 207.42h3v3h-3zM422.99 206.88h3v3h-3zM437.20 198.56h3v3h-3zM451.41 196.68h3v3h-3zM465.62 195.60h3v3h-3zM479.84 193.72h3v3h-3zM494.05 198.29h3v3h-3zM508.26 209.30h3v3h-3zM522.48 229.97h3v3h-3zM536.69 254.13h3v3h-3zM550.90 276.96h3v3h-3zM565.11 299.78h3v3h-3zM579.33 314.55h3v3h-3zM593.54 322.33h3v3h-3zM607.75 328.78h3v3h-3z" fill="#2E8B57"/>
<path d="M380.35 206.88h3v3h-3zM394.56 205.81h3v3h-3zM408.78 204.73h3v3h-3zM422.99 201.24h3v3h-3zM437.20 195.06h3v3h-3zM451.41 190.50h3v3h-3zM465.62 189.43h3v3h-3zM479.84 187.55h3v3h-3zM494.05 190.23h3v3h-3zM508.26 204.19h3v3h-3zM522.48 225.94h3v3h-3zM536.69 252.79h3v3h-3zM550.90 275.62h3v3h-3zM565.11 298.44h3v3h-3zM579.33 313.21h3v3h-3zM593.54 321.26h3v3h-3zM607.75 329.31h3v3h-3z" fill="#32C832"/>
<path d="M380.35 203.93h3v3h-3zM394.56 200.70h3v3h-3zM408.78 192.65h3v3h-3zM422.99 186.47h3v3h-3zM437.20 181.91h3v3h-3zM451.41 195.06h3v3h-3zM465.62 219.23h3v3h-3zM479.84 240.71h3v3h-3zM494.05 266.62h3v3h-3zM508.26 290.38h3v3h-3zM522.48 304.34h3v3h-3zM536.69 315.62h3v3h-3zM550.90 319.92h3v3h-3zM565.11 330.39h3v3h-3zM579.33 332.27h3v3h-3zM593.54 332.54h3v3h-3zM607.75 332.81h3v3h-3z" fill="#FF7F50"/>
<path d="M380.35 209.03h3v3h-3zM394.56 208.49h3v3h-3zM408.78 200.17h3v3h-3zM422.99 203.39h3v3h-3zM437.20 196.94h3v3h-3zM451.41 209.83h3v3h-3zM465.62 232.66h3v3h-3zM479.84 252.26h3v3h-3zM494.05 276.15h3v3h-3zM508.26 291.99h3v3h-3zM522.48 303.00h3v3h-3zM536.69 311.33h3v3h-3zM550.90 319.92h3v3h-3zM565.11 322.33h3v3h-3zM579.33 325.82h3v3h-3zM593.54 326.90h3v3h-3zM607.75 326.63h3v3h-3z" fill="#8B0A0A"/>
<path d="M380.35 207.15h3v3h-3zM394.56 207.15h3v3h-3zM408.78 200.17h3v3h-3zM422.99 193.72h3v3h-3zM437.20 183.79h3v3h-3zM451.41 201.24h3v3h-3zM465.62 224.06h3v3h-3zM479.84 249.30h3v3h-3zM494.05 274.54h3v3h-3zM508.26 292.53h3v3h-3zM522.48 303.81h3v3h-3zM536.69 314.01h3v3h-3zM550.90 322.60h3v3h-3zM565.11 326.90h3v3h-3zM579.33 329.31h3v3h-3zM593.54 329.05h3v3h-3zM607.75 333.34h3v3h-3z" fill="#F00A0A"/>
<path d="M380.35 202.31h3v3h-3zM394.56 199.09h3v3h-3zM408.78 190.50h3v3h-3zM422.99 188.62h3v3h-3zM437.20 192.11h3v3h-3zM451.41 199.09h3v3h-3zM465.62 213.59h3v3h-3zM479.84 226.75h3v3h-3zM494.05 236.41h3v3h-3zM508.26 246.35h3v3h-3zM522.48 259.24h3v3h-3zM536.69 274.00h3v3h-3zM550.90 286.62h3v3h-3zM565.11 296.02h3v3h-3zM579.33 303.54h3v3h-3zM593.54 312.40h3v3h-3zM607.75 322.87h3v3h-3z" fill="#0A0A8C"/>
<path d="M380.35 219.77h3v3h-3zM394.56 209.43h3v3h-3zM408.78 199.09h3v3h-3zM422.99 195.06h3v3h-3zM437.20 195.06h3v3h-3zM451.41 206.34h3v3h-3zM465.62 219.23h3v3h-3zM479.84 232.66h3v3h-3zM494.05 243.40h3v3h-3zM508.26 254.13h3v3h-3zM522.48 266.22h3v3h-3zM536.69 278.30h3v3h-3zM550.90 289.04h3v3h-3zM565.11 297.10h3v3h-3zM579.33 306.49h3v3h-3zM593.54 314.55h3v3h-3zM607.75 321.80h3v3h-3z" fill="#3F6FE0"/>
<path d="M380.35 204.46h3v3h-3zM394.56 203.39h3v3h-3zM408.78 196.14h3v3h-3zM422.99 192.11h3v3h-3zM437.20 192.92h3v3h-3zM451.41 203.93h3v3h-3zM465.62 225.41h3v3h-3zM479.84 231.85h3v3h-3zM494.05 242.05h3v3h-3zM508.26 254.67h3v3h-3zM522.48 266.75h3v3h-3zM536.69 280.18h3v3h-3zM550.90 290.38h3v3h-3zM565.11 299.51h3v3h-3zM579.33 308.10h3v3h-3zM593.54 316.96h3v3h-3zM607.75 325.02h3v3h-3z" fill="#5CB4F0"/>
</g>
<g clip-path="url(#cBa)">
<polyline points="381.85,490.48 396.06,492.29 410.28,498.23 424.49,502.36 438.70,510.12 452.91,513.14 467.12,510.12 481.34,496.22 495.55,464.40 509.76,423.51 523.98,388.27 538.19,378.20 552.40,383.23 566.61,411.43 580.83,444.66 595.04,471.85 609.25,488.77" fill="none" stroke="#50EE96" stroke-width="1.3" stroke-linejoin="round"/>
<polyline points="381.85,502.36 396.06,503.07 410.28,508.30 424.49,504.17 438.70,513.64 452.91,512.63 467.12,508.71 481.34,497.63 495.55,462.99 509.76,421.50 523.98,395.32 538.19,381.22 552.40,382.23 566.61,405.39 580.83,433.58 595.04,464.80 609.25,485.44" fill="none" stroke="#2E8B57" stroke-width="1.3" stroke-linejoin="round"/>
<polyline points="381.85,505.38 396.06,507.10 410.28,509.11 424.49,507.10 438.70,514.24 452.91,515.65 467.12,510.82 481.34,500.35 495.55,468.53 509.76,423.51 523.98,392.80 538.19,381.22 552.40,383.23 566.61,405.39 580.83,436.10 595.04,463.79 609.25,483.73" fill="none" stroke="#32C832" stroke-width="1.3" stroke-linejoin="round"/>
<polyline points="381.85,488.16 396.06,494.71 410.28,507.10 424.49,511.32 438.70,486.96 452.91,432.58 467.12,391.29 481.34,376.19 495.55,375.18 509.76,385.25 523.98,408.41 538.19,430.56 552.40,455.13 566.61,472.86 580.83,483.73 595.04,491.29 609.25,496.32" fill="none" stroke="#FF7F50" stroke-width="1.3" stroke-linejoin="round"/>
<polyline points="381.85,502.36 396.06,503.07 410.28,508.30 424.49,504.17 438.70,481.01 452.91,423.51 467.12,387.26 481.34,378.20 495.55,380.72 509.76,393.81 523.98,412.84 538.19,442.65 552.40,459.36 566.61,475.37 580.83,487.06 595.04,493.00 609.25,497.13" fill="none" stroke="#8B0A0A" stroke-width="1.3" stroke-linejoin="round"/>
<polyline points="381.85,508.30 396.06,511.32 410.28,513.64 424.49,514.85 438.70,492.29 452.91,427.54 467.12,389.28 481.34,379.21 495.55,380.21 509.76,391.69 523.98,419.49 538.19,444.66 552.40,465.20 566.61,478.70 580.83,488.77 595.04,494.61 609.25,498.03" fill="none" stroke="#F00A0A" stroke-width="1.3" stroke-linejoin="round"/>
<polyline points="381.85,494.71 396.06,498.84 410.28,505.38 424.49,509.51 438.70,459.77 452.91,426.54 467.12,404.38 481.34,390.28 495.55,385.25 509.76,379.21 523.98,378.20 538.19,382.73 552.40,395.32 566.61,403.37 580.83,420.90 595.04,456.75 609.25,481.22" fill="none" stroke="#0A0A8C" stroke-width="1.3" stroke-linejoin="round"/>
<polyline points="381.85,491.99 396.06,502.06 410.28,510.72 424.49,513.14 438.70,465.81 452.91,421.50 467.12,400.35 481.34,388.27 495.55,382.23 509.76,381.22 523.98,381.62 538.19,390.69 552.40,396.33 566.61,406.40 580.83,424.52 595.04,453.72 609.25,475.88" fill="none" stroke="#3F6FE0" stroke-width="1.3" stroke-linejoin="round"/>
<polyline points="381.85,507.10 396.06,508.10 410.28,511.12 424.49,512.63 438.70,472.05 452.91,418.48 467.12,393.81 481.34,384.24 495.55,379.21 509.76,377.19 523.98,377.19 538.19,388.27 552.40,391.29 566.61,404.38 580.83,426.54 595.04,448.69 609.25,475.37" fill="none" stroke="#5CB4F0" stroke-width="1.3" stroke-linejoin="round"/>
<path d="M381.85 487.88V493.08M380.25 487.88h3.2M380.25 493.08h3.2M396.06 485.49V499.09M394.46 485.49h3.2M394.46 499.09h3.2M410.28 495.53V500.93M408.68 495.53h3.2M408.68 500.93h3.2M424.49 499.76V504.96M422.89 499.76h3.2M422.89 504.96h3.2M438.70 507.52V512.72M437.10 507.52h3.2M437.10 512.72h3.2M452.91 510.54V515.74M451.31 510.54h3.2M451.31 515.74h3.2M467.12 507.52V512.72M465.52 507.52h3.2M465.52 512.72h3.2M481.34 493.62V498.82M479.74 493.62h3.2M479.74 498.82h3.2M495.55 461.80V467.00M493.95 461.80h3.2M493.95 467.00h3.2M509.76 410.31V436.71M508.16 410.31h3.2M508.16 436.71h3.2M523.98 385.67V390.87M522.38 385.67h3.2M522.38 390.87h3.2M538.19 375.60V380.80M536.59 375.60h3.2M536.59 380.80h3.2M552.40 380.63V385.83M550.80 380.63h3.2M550.80 385.83h3.2M566.61 405.03V417.83M565.01 405.03h3.2M565.01 417.83h3.2M580.83 437.06V452.26M579.23 437.06h3.2M579.23 452.26h3.2M595.04 464.25V479.45M593.44 464.25h3.2M593.44 479.45h3.2M609.25 486.17V491.37M607.65 486.17h3.2M607.65 491.37h3.2" stroke="#50EE96" stroke-width="1" fill="none"/>
<path d="M381.85 499.76V504.96M380.25 499.76h3.2M380.25 504.96h3.2M396.06 500.47V505.67M394.46 500.47h3.2M394.46 505.67h3.2M410.28 505.70V510.90M408.68 505.70h3.2M408.68 510.90h3.2M424.49 489.87V518.47M422.89 489.87h3.2M422.89 518.47h3.2M438.70 511.04V516.24M437.10 511.04h3.2M437.10 516.24h3.2M452.91 510.03V515.23M451.31 510.03h3.2M451.31 515.23h3.2M467.12 506.11V511.31M465.52 506.11h3.2M465.52 511.31h3.2M481.34 495.03V500.23M479.74 495.03h3.2M479.74 500.23h3.2M495.55 460.39V465.59M493.95 460.39h3.2M493.95 465.59h3.2M509.76 418.90V424.10M508.16 418.90h3.2M508.16 424.10h3.2M523.98 392.72V397.92M522.38 392.72h3.2M522.38 397.92h3.2M538.19 378.62V383.82M536.59 378.62h3.2M536.59 383.82h3.2M552.40 379.63V384.83M550.80 379.63h3.2M550.80 384.83h3.2M566.61 402.79V407.99M565.01 402.79h3.2M565.01 407.99h3.2M580.83 430.98V436.18M579.23 430.98h3.2M579.23 436.18h3.2M595.04 462.20V467.40M593.44 462.20h3.2M593.44 467.40h3.2M609.25 482.84V488.04M607.65 482.84h3.2M607.65 488.04h3.2" stroke="#2E8B57" stroke-width="1" fill="none"/>
<path d="M381.85 502.78V507.98M380.25 502.78h3.2M380.25 507.98h3.2M396.06 504.50V509.70M394.46 504.50h3.2M394.46 509.70h3.2M410.28 506.51V511.71M408.68 506.51h3.2M408.68 511.71h3.2M424.49 504.50V509.70M422.89 504.50h3.2M422.89 509.70h3.2M438.70 511.64V516.84M437.10 511.64h3.2M437.10 516.84h3.2M452.91 513.05V518.25M451.31 513.05h3.2M451.31 518.25h3.2M467.12 508.22V513.42M465.52 508.22h3.2M465.52 513.42h3.2M481.34 497.75V502.95M479.74 497.75h3.2M479.74 502.95h3.2M495.55 465.93V471.13M493.95 465.93h3.2M493.95 471.13h3.2M509.76 420.91V426.11M508.16 420.91h3.2M508.16 426.11h3.2M523.98 383.30V402.30M522.38 383.30h3.2M522.38 402.30h3.2M538.19 378.62V383.82M536.59 378.62h3.2M536.59 383.82h3.2M552.40 380.63V385.83M550.80 380.63h3.2M550.80 385.83h3.2M566.61 402.79V407.99M565.01 402.79h3.2M565.01 407.99h3.2M580.83 433.50V438.70M579.23 433.50h3.2M579.23 438.70h3.2M595.04 461.19V466.39M593.44 461.19h3.2M593.44 466.39h3.2M609.25 481.13V486.33M607.65 481.13h3.2M607.65 486.33h3.2" stroke="#32C832" stroke-width="1" fill="none"/>
<path d="M381.85 485.56V490.76M380.25 485.56h3.2M380.25 490.76h3.2M396.06 492.11V497.31M394.46 492.11h3.2M394.46 497.31h3.2M410.28 504.50V509.70M408.68 504.50h3.2M408.68 509.70h3.2M424.49 508.72V513.92M422.89 508.72h3.2M422.89 513.92h3.2M438.70 484.36V489.56M437.10 484.36h3.2M437.10 489.56h3.2M452.91 429.98V435.18M451.31 429.98h3.2M451.31 435.18h3.2M467.12 388.69V393.89M465.52 388.69h3.2M465.52 393.89h3.2M481.34 372.99V379.39M479.74 372.99h3.2M479.74 379.39h3.2M495.55 369.18V381.18M493.95 369.18h3.2M493.95 381.18h3.2M509.76 382.65V387.85M508.16 382.65h3.2M508.16 387.85h3.2M523.98 405.81V411.01M522.38 405.81h3.2M522.38 411.01h3.2M538.19 423.46V437.66M536.59 423.46h3.2M536.59 437.66h3.2M552.40 445.43V464.83M550.80 445.43h3.2M550.80 464.83h3.2M566.61 463.66V482.06M565.01 463.66h3.2M565.01 482.06h3.2M580.83 474.03V493.43M579.23 474.03h3.2M579.23 493.43h3.2M595.04 485.39V497.19M593.44 485.39h3.2M593.44 497.19h3.2M609.25 493.72V498.92M607.65 493.72h3.2M607.65 498.92h3.2" stroke="#FF7F50" stroke-width="1" fill="none"/>
<path d="M381.85 499.76V504.96M380.25 499.76h3.2M380.25 504.96h3.2M396.06 500.47V505.67M394.46 500.47h3.2M394.46 505.67h3.2M410.28 505.70V510.90M408.68 505.70h3.2M408.68 510.90h3.2M424.49 501.57V506.77M422.89 501.57h3.2M422.89 506.77h3.2M438.70 478.41V483.61M437.10 478.41h3.2M437.10 483.61h3.2M452.91 420.91V426.11M451.31 420.91h3.2M451.31 426.11h3.2M467.12 384.66V389.86M465.52 384.66h3.2M465.52 389.86h3.2M481.34 375.60V380.80M479.74 375.60h3.2M479.74 380.80h3.2M495.55 378.12V383.32M493.95 378.12h3.2M493.95 383.32h3.2M509.76 391.21V396.41M508.16 391.21h3.2M508.16 396.41h3.2M523.98 410.24V415.44M522.38 410.24h3.2M522.38 415.44h3.2M538.19 433.85V451.45M536.59 433.85h3.2M536.59 451.45h3.2M552.40 456.76V461.96M550.80 456.76h3.2M550.80 461.96h3.2M566.61 472.77V477.97M565.01 472.77h3.2M565.01 477.97h3.2M580.83 484.46V489.66M579.23 484.46h3.2M579.23 489.66h3.2M595.04 490.40V495.60M593.44 490.40h3.2M593.44 495.60h3.2M609.25 494.53V499.73M607.65 494.53h3.2M607.65 499.73h3.2" stroke="#8B0A0A" stroke-width="1" fill="none"/>
<path d="M381.85 505.70V510.90M380.25 505.70h3.2M380.25 510.90h3.2M396.06 508.72V513.92M394.46 508.72h3.2M394.46 513.92h3.2M410.28 511.04V516.24M408.68 511.04h3.2M408.68 516.24h3.2M424.49 512.25V517.45M422.89 512.25h3.2M422.89 517.45h3.2M438.70 486.39V498.19M437.10 486.39h3.2M437.10 498.19h3.2M452.91 424.94V430.14M451.31 424.94h3.2M451.31 430.14h3.2M467.12 386.68V391.88M465.52 386.68h3.2M465.52 391.88h3.2M481.34 376.61V381.81M479.74 376.61h3.2M479.74 381.81h3.2M495.55 377.61V382.81M493.95 377.61h3.2M493.95 382.81h3.2M509.76 389.09V394.29M508.16 389.09h3.2M508.16 394.29h3.2M523.98 412.59V426.39M522.38 412.59h3.2M522.38 426.39h3.2M538.19 442.06V447.26M536.59 442.06h3.2M536.59 447.26h3.2M552.40 462.60V467.80M550.80 462.60h3.2M550.80 467.80h3.2M566.61 476.10V481.30M565.01 476.10h3.2M565.01 481.30h3.2M580.83 486.17V491.37M579.23 486.17h3.2M579.23 491.37h3.2M595.04 492.01V497.21M593.44 492.01h3.2M593.44 497.21h3.2M609.25 495.43V500.63M607.65 495.43h3.2M607.65 500.63h3.2" stroke="#F00A0A" stroke-width="1" fill="none"/>
<path d="M381.85 492.11V497.31M380.25 492.11h3.2M380.25 497.31h3.2M396.06 496.24V501.44M394.46 496.24h3.2M394.46 501.44h3.2M410.28 502.78V507.98M408.68 502.78h3.2M408.68 507.98h3.2M424.49 506.91V512.11M422.89 506.91h3.2M422.89 512.11h3.2M438.70 455.57V463.97M437.10 455.57h3.2M437.10 463.97h3.2M452.91 423.94V429.14M451.31 423.94h3.2M451.31 429.14h3.2M467.12 399.38V409.38M465.52 399.38h3.2M465.52 409.38h3.2M481.34 387.68V392.88M479.74 387.68h3.2M479.74 392.88h3.2M495.55 382.65V387.85M493.95 382.65h3.2M493.95 387.85h3.2M509.76 376.61V381.81M508.16 376.61h3.2M508.16 381.81h3.2M523.98 375.60V380.80M522.38 375.60h3.2M522.38 380.80h3.2M538.19 380.13V385.33M536.59 380.13h3.2M536.59 385.33h3.2M552.40 392.72V397.92M550.80 392.72h3.2M550.80 397.92h3.2M566.61 400.77V405.97M565.01 400.77h3.2M565.01 405.97h3.2M580.83 418.30V423.50M579.23 418.30h3.2M579.23 423.50h3.2M595.04 454.15V459.35M593.44 454.15h3.2M593.44 459.35h3.2M609.25 478.62V483.82M607.65 478.62h3.2M607.65 483.82h3.2" stroke="#0A0A8C" stroke-width="1" fill="none"/>
<path d="M381.85 489.39V494.59M380.25 489.39h3.2M380.25 494.59h3.2M396.06 499.46V504.66M394.46 499.46h3.2M394.46 504.66h3.2M410.28 508.12V513.32M408.68 508.12h3.2M408.68 513.32h3.2M424.49 510.54V515.74M422.89 510.54h3.2M422.89 515.74h3.2M438.70 463.21V468.41M437.10 463.21h3.2M437.10 468.41h3.2M452.91 418.90V424.10M451.31 418.90h3.2M451.31 424.10h3.2M467.12 397.75V402.95M465.52 397.75h3.2M465.52 402.95h3.2M481.34 382.27V394.27M479.74 382.27h3.2M479.74 394.27h3.2M495.55 379.63V384.83M493.95 379.63h3.2M493.95 384.83h3.2M509.76 378.62V383.82M508.16 378.62h3.2M508.16 383.82h3.2M523.98 379.02V384.22M522.38 379.02h3.2M522.38 384.22h3.2M538.19 388.09V393.29M536.59 388.09h3.2M536.59 393.29h3.2M552.40 393.73V398.93M550.80 393.73h3.2M550.80 398.93h3.2M566.61 403.80V409.00M565.01 403.80h3.2M565.01 409.00h3.2M580.83 421.92V427.12M579.23 421.92h3.2M579.23 427.12h3.2M595.04 451.12V456.32M593.44 451.12h3.2M593.44 456.32h3.2M609.25 473.28V478.48M607.65 473.28h3.2M607.65 478.48h3.2" stroke="#3F6FE0" stroke-width="1" fill="none"/>
<path d="M381.85 504.50V509.70M380.25 504.50h3.2M380.25 509.70h3.2M396.06 505.50V510.70M394.46 505.50h3.2M394.46 510.70h3.2M410.28 508.52V513.72M408.68 508.52h3.2M408.68 513.72h3.2M424.49 510.03V515.23M422.89 510.03h3.2M422.89 515.23h3.2M438.70 469.45V474.65M437.10 469.45h3.2M437.10 474.65h3.2M452.91 415.88V421.08M451.31 415.88h3.2M451.31 421.08h3.2M467.12 391.21V396.41M465.52 391.21h3.2M465.52 396.41h3.2M481.34 381.64V386.84M479.74 381.64h3.2M479.74 386.84h3.2M495.55 376.61V381.81M493.95 376.61h3.2M493.95 381.81h3.2M509.76 372.69V381.69M508.16 372.69h3.2M508.16 381.69h3.2M523.98 372.19V382.19M522.38 372.19h3.2M522.38 382.19h3.2M538.19 378.27V398.27M536.59 378.27h3.2M536.59 398.27h3.2M552.40 388.69V393.89M550.80 388.69h3.2M550.80 393.89h3.2M566.61 397.98V410.78M565.01 397.98h3.2M565.01 410.78h3.2M580.83 423.94V429.14M579.23 423.94h3.2M579.23 429.14h3.2M595.04 439.39V457.99M593.44 439.39h3.2M593.44 457.99h3.2M609.25 472.77V477.97M607.65 472.77h3.2M607.65 477.97h3.2" stroke="#5CB4F0" stroke-width="1" fill="none"/>
<path d="M380.35 488.98h3v3h-3zM394.56 490.79h3v3h-3zM408.78 496.73h3v3h-3zM422.99 500.86h3v3h-3zM437.20 508.62h3v3h-3zM451.41 511.64h3v3h-3zM465.62 508.62h3v3h-3zM479.84 494.72h3v3h-3zM494.05 462.90h3v3h-3zM508.26 422.01h3v3h-3zM522.48 386.77h3v3h-3zM536.69 376.70h3v3h-3zM550.90 381.73h3v3h-3zM565.11 409.93h3v3h-3zM579.33 443.16h3v3h-3zM593.54 470.35h3v3h-3zM607.75 487.27h3v3h-3z" fill="#50EE96"/>
<path d="M380.35 500.86h3v3h-3zM394.56 501.57h3v3h-3zM408.78 506.80h3v3h-3zM422.99 502.67h3v3h-3zM437.20 512.14h3v3h-3zM451.41 511.13h3v3h-3zM465.62 507.21h3v3h-3zM479.84 496.13h3v3h-3zM494.05 461.49h3v3h-3zM508.26 420.00h3v3h-3zM522.48 393.82h3v3h-3zM536.69 379.72h3v3h-3zM550.90 380.73h3v3h-3zM565.11 403.89h3v3h-3zM579.33 432.08h3v3h-3zM593.54 463.30h3v3h-3zM607.75 483.94h3v3h-3z" fill="#2E8B57"/>
<path d="M380.35 503.88h3v3h-3zM394.56 505.60h3v3h-3zM408.78 507.61h3v3h-3zM422.99 505.60h3v3h-3zM437.20 512.74h3v3h-3zM451.41 514.15h3v3h-3zM465.62 509.32h3v3h-3zM479.84 498.85h3v3h-3zM494.05 467.03h3v3h-3zM508.26 422.01h3v3h-3zM522.48 391.30h3v3h-3zM536.69 379.72h3v3h-3zM550.90 381.73h3v3h-3zM565.11 403.89h3v3h-3zM579.33 434.60h3v3h-3zM593.54 462.29h3v3h-3zM607.75 482.23h3v3h-3z" fill="#32C832"/>
<path d="M380.35 486.66h3v3h-3zM394.56 493.21h3v3h-3zM408.78 505.60h3v3h-3zM422.99 509.82h3v3h-3zM437.20 485.46h3v3h-3zM451.41 431.08h3v3h-3zM465.62 389.79h3v3h-3zM479.84 374.69h3v3h-3zM494.05 373.68h3v3h-3zM508.26 383.75h3v3h-3zM522.48 406.91h3v3h-3zM536.69 429.06h3v3h-3zM550.90 453.63h3v3h-3zM565.11 471.36h3v3h-3zM579.33 482.23h3v3h-3zM593.54 489.79h3v3h-3zM607.75 494.82h3v3h-3z" fill="#FF7F50"/>
<path d="M380.35 500.86h3v3h-3zM394.56 501.57h3v3h-3zM408.78 506.80h3v3h-3zM422.99 502.67h3v3h-3zM437.20 479.51h3v3h-3zM451.41 422.01h3v3h-3zM465.62 385.76h3v3h-3zM479.84 376.70h3v3h-3zM494.05 379.22h3v3h-3zM508.26 392.31h3v3h-3zM522.48 411.34h3v3h-3zM536.69 441.15h3v3h-3zM550.90 457.86h3v3h-3zM565.11 473.87h3v3h-3zM579.33 485.56h3v3h-3zM593.54 491.50h3v3h-3zM607.75 495.63h3v3h-3z" fill="#8B0A0A"/>
<path d="M380.35 506.80h3v3h-3zM394.56 509.82h3v3h-3zM408.78 512.14h3v3h-3zM422.99 513.35h3v3h-3zM437.20 490.79h3v3h-3zM451.41 426.04h3v3h-3zM465.62 387.78h3v3h-3zM479.84 377.71h3v3h-3zM494.05 378.71h3v3h-3zM508.26 390.19h3v3h-3zM522.48 417.99h3v3h-3zM536.69 443.16h3v3h-3zM550.90 463.70h3v3h-3zM565.11 477.20h3v3h-3zM579.33 487.27h3v3h-3zM593.54 493.11h3v3h-3zM607.75 496.53h3v3h-3z" fill="#F00A0A"/>
<path d="M380.35 493.21h3v3h-3zM394.56 497.34h3v3h-3zM408.78 503.88h3v3h-3zM422.99 508.01h3v3h-3zM437.20 458.27h3v3h-3zM451.41 425.04h3v3h-3zM465.62 402.88h3v3h-3zM479.84 388.78h3v3h-3zM494.05 383.75h3v3h-3zM508.26 377.71h3v3h-3zM522.48 376.70h3v3h-3zM536.69 381.23h3v3h-3zM550.90 393.82h3v3h-3zM565.11 401.87h3v3h-3zM579.33 419.40h3v3h-3zM593.54 455.25h3v3h-3zM607.75 479.72h3v3h-3z" fill="#0A0A8C"/>
<path d="M380.35 490.49h3v3h-3zM394.56 500.56h3v3h-3zM408.78 509.22h3v3h-3zM422.99 511.64h3v3h-3zM437.20 464.31h3v3h-3zM451.41 420.00h3v3h-3zM465.62 398.85h3v3h-3zM479.84 386.77h3v3h-3zM494.05 380.73h3v3h-3zM508.26 379.72h3v3h-3zM522.48 380.12h3v3h-3zM536.69 389.19h3v3h-3zM550.90 394.83h3v3h-3zM565.11 404.90h3v3h-3zM579.33 423.02h3v3h-3zM593.54 452.22h3v3h-3zM607.75 474.38h3v3h-3z" fill="#3F6FE0"/>
<path d="M380.35 505.60h3v3h-3zM394.56 506.60h3v3h-3zM408.78 509.62h3v3h-3zM422.99 511.13h3v3h-3zM437.20 470.55h3v3h-3zM451.41 416.98h3v3h-3zM465.62 392.31h3v3h-3zM479.84 382.74h3v3h-3zM494.05 377.71h3v3h-3zM508.26 375.69h3v3h-3zM522.48 375.69h3v3h-3zM536.69 386.77h3v3h-3zM550.90 389.79h3v3h-3zM565.11 402.88h3v3h-3zM579.33 425.04h3v3h-3zM593.54 447.19h3v3h-3zM607.75 473.87h3v3h-3z" fill="#5CB4F0"/>
</g>
<g clip-path="url(#cBb)">
<polyline points="381.85,615.95 396.06,616.42 410.28,619.74 424.49,620.69 438.70,627.79 452.91,630.16 467.12,624.48 481.34,606.00 495.55,576.63 509.76,564.79 523.98,560.52 538.19,566.68 552.40,590.84 566.61,642.01 580.83,670.19 595.04,688.43 609.25,695.54" fill="none" stroke="#50EE96" stroke-width="1.3" stroke-linejoin="round"/>
<polyline points="381.85,607.66 396.06,607.66 410.28,612.16 424.49,615.19 438.70,616.90 452.91,617.85 467.12,612.63 481.34,598.42 495.55,575.21 509.76,560.52 523.98,560.52 538.19,570.47 552.40,595.58 566.61,635.37 580.83,661.90 595.04,682.75 609.25,695.54" fill="none" stroke="#2E8B57" stroke-width="1.3" stroke-linejoin="round"/>
<polyline points="381.85,618.98 396.06,618.98 410.28,620.69 424.49,622.11 438.70,624.48 452.91,624.48 467.12,622.11 481.34,608.37 495.55,585.63 509.76,565.73 523.98,560.05 538.19,566.68 552.40,590.84 566.61,633.95 580.83,658.35 595.04,682.99 609.25,695.73" fill="none" stroke="#32C832" stroke-width="1.3" stroke-linejoin="round"/>
<polyline points="381.85,617.37 396.06,617.37 410.28,624.48 424.49,630.16 438.70,604.11 452.91,563.84 467.12,555.55 481.34,556.73 495.55,575.68 509.76,608.37 523.98,638.22 538.19,660.01 552.40,678.49 566.61,687.49 580.83,694.12 595.04,698.38 609.25,700.28" fill="none" stroke="#FF7F50" stroke-width="1.3" stroke-linejoin="round"/>
<polyline points="381.85,609.55 396.06,608.84 410.28,614.06 424.49,616.42 438.70,587.05 452.91,563.84 467.12,560.52 481.34,567.63 495.55,583.26 509.76,614.53 523.98,643.90 538.19,668.54 552.40,681.80 566.61,691.75 580.83,696.01 595.04,699.80 609.25,701.23" fill="none" stroke="#8B0A0A" stroke-width="1.3" stroke-linejoin="round"/>
<polyline points="381.85,616.90 396.06,617.85 410.28,623.53 424.49,625.43 438.70,595.58 452.91,563.84 467.12,560.05 481.34,568.10 495.55,584.45 509.76,606.95 523.98,646.27 538.19,666.64 552.40,682.28 566.61,692.22 580.83,696.68 595.04,700.28 609.25,702.17" fill="none" stroke="#F00A0A" stroke-width="1.3" stroke-linejoin="round"/>
<polyline points="381.85,611.21 396.06,613.58 410.28,616.90 424.49,616.42 438.70,589.42 452.91,568.10 467.12,561.00 481.34,560.05 495.55,560.52 509.76,563.84 523.98,576.16 538.19,589.42 552.40,609.32 566.61,630.16 580.83,651.96 595.04,673.75 609.25,693.17" fill="none" stroke="#0A0A8C" stroke-width="1.3" stroke-linejoin="round"/>
<polyline points="381.85,614.06 396.06,612.16 410.28,616.90 424.49,613.58 438.70,579.95 452.91,562.42 467.12,559.10 481.34,562.42 495.55,562.89 509.76,574.26 523.98,582.79 538.19,603.16 552.40,618.79 566.61,633.95 580.83,653.85 595.04,673.75 609.25,692.22" fill="none" stroke="#3F6FE0" stroke-width="1.3" stroke-linejoin="round"/>
<polyline points="381.85,620.21 396.06,618.79 410.28,623.53 424.49,621.63 438.70,581.37 452.91,560.52 467.12,557.68 481.34,558.63 495.55,560.05 509.76,570.00 523.98,577.10 538.19,595.11 552.40,613.34 566.61,632.53 580.83,654.80 595.04,670.19 609.25,690.33" fill="none" stroke="#5CB4F0" stroke-width="1.3" stroke-linejoin="round"/>
<path d="M381.85 613.75V618.15M380.25 613.75h3.2M380.25 618.15h3.2M396.06 614.22V618.62M394.46 614.22h3.2M394.46 618.62h3.2M410.28 617.54V621.94M408.68 617.54h3.2M408.68 621.94h3.2M424.49 618.49V622.89M422.89 618.49h3.2M422.89 622.89h3.2M438.70 625.59V629.99M437.10 625.59h3.2M437.10 629.99h3.2M452.91 627.96V632.36M451.31 627.96h3.2M451.31 632.36h3.2M467.12 622.28V626.68M465.52 622.28h3.2M465.52 626.68h3.2M481.34 603.80V608.20M479.74 603.80h3.2M479.74 608.20h3.2M495.55 565.33V587.93M493.95 565.33h3.2M493.95 587.93h3.2M509.76 562.59V566.99M508.16 562.59h3.2M508.16 566.99h3.2M523.98 558.32V562.72M522.38 558.32h3.2M522.38 562.72h3.2M538.19 564.48V568.88M536.59 564.48h3.2M536.59 568.88h3.2M552.40 588.64V593.04M550.80 588.64h3.2M550.80 593.04h3.2M566.61 632.91V651.11M565.01 632.91h3.2M565.01 651.11h3.2M580.83 661.99V678.39M579.23 661.99h3.2M579.23 678.39h3.2M595.04 682.03V694.83M593.44 682.03h3.2M593.44 694.83h3.2M609.25 693.34V697.74M607.65 693.34h3.2M607.65 697.74h3.2" stroke="#50EE96" stroke-width="1" fill="none"/>
<path d="M381.85 605.46V609.86M380.25 605.46h3.2M380.25 609.86h3.2M396.06 605.46V609.86M394.46 605.46h3.2M394.46 609.86h3.2M410.28 609.96V614.36M408.68 609.96h3.2M408.68 614.36h3.2M424.49 612.99V617.39M422.89 612.99h3.2M422.89 617.39h3.2M438.70 614.70V619.10M437.10 614.70h3.2M437.10 619.10h3.2M452.91 615.64V620.05M451.31 615.64h3.2M451.31 620.05h3.2M467.12 610.43V614.83M465.52 610.43h3.2M465.52 614.83h3.2M481.34 596.22V600.62M479.74 596.22h3.2M479.74 600.62h3.2M495.55 573.01V577.41M493.95 573.01h3.2M493.95 577.41h3.2M509.76 558.32V562.72M508.16 558.32h3.2M508.16 562.72h3.2M523.98 558.32V562.72M522.38 558.32h3.2M522.38 562.72h3.2M538.19 568.27V572.67M536.59 568.27h3.2M536.59 572.67h3.2M552.40 593.38V597.78M550.80 593.38h3.2M550.80 597.78h3.2M566.61 633.17V637.57M565.01 633.17h3.2M565.01 637.57h3.2M580.83 659.70V664.10M579.23 659.70h3.2M579.23 664.10h3.2M595.04 680.55V684.95M593.44 680.55h3.2M593.44 684.95h3.2M609.25 693.34V697.74M607.65 693.34h3.2M607.65 697.74h3.2" stroke="#2E8B57" stroke-width="1" fill="none"/>
<path d="M381.85 616.78V621.18M380.25 616.78h3.2M380.25 621.18h3.2M396.06 616.78V621.18M394.46 616.78h3.2M394.46 621.18h3.2M410.28 618.49V622.89M408.68 618.49h3.2M408.68 622.89h3.2M424.49 619.91V624.31M422.89 619.91h3.2M422.89 624.31h3.2M438.70 622.28V626.68M437.10 622.28h3.2M437.10 626.68h3.2M452.91 622.28V626.68M451.31 622.28h3.2M451.31 626.68h3.2M467.12 619.91V624.31M465.52 619.91h3.2M465.52 624.31h3.2M481.34 606.17V610.57M479.74 606.17h3.2M479.74 610.57h3.2M495.55 582.83V588.43M493.95 582.83h3.2M493.95 588.43h3.2M509.76 563.53V567.93M508.16 563.53h3.2M508.16 567.93h3.2M523.98 557.85V562.25M522.38 557.85h3.2M522.38 562.25h3.2M538.19 559.18V574.18M536.59 559.18h3.2M536.59 574.18h3.2M552.40 583.64V598.04M550.80 583.64h3.2M550.80 598.04h3.2M566.61 631.75V636.15M565.01 631.75h3.2M565.01 636.15h3.2M580.83 656.15V660.55M579.23 656.15h3.2M579.23 660.55h3.2M595.04 680.79V685.19M593.44 680.79h3.2M593.44 685.19h3.2M609.25 693.53V697.93M607.65 693.53h3.2M607.65 697.93h3.2" stroke="#32C832" stroke-width="1" fill="none"/>
<path d="M381.85 615.17V619.57M380.25 615.17h3.2M380.25 619.57h3.2M396.06 615.17V619.57M394.46 615.17h3.2M394.46 619.57h3.2M410.28 622.28V626.68M408.68 622.28h3.2M408.68 626.68h3.2M424.49 627.96V632.36M422.89 627.96h3.2M422.89 632.36h3.2M438.70 601.01V607.21M437.10 601.01h3.2M437.10 607.21h3.2M452.91 561.64V566.04M451.31 561.64h3.2M451.31 566.04h3.2M467.12 551.45V559.65M465.52 551.45h3.2M465.52 559.65h3.2M481.34 546.73V566.73M479.74 546.73h3.2M479.74 566.73h3.2M495.55 573.48V577.88M493.95 573.48h3.2M493.95 577.88h3.2M509.76 606.17V610.57M508.16 606.17h3.2M508.16 610.57h3.2M523.98 628.22V648.22M522.38 628.22h3.2M522.38 648.22h3.2M538.19 651.31V668.71M536.59 651.31h3.2M536.59 668.71h3.2M552.40 672.09V684.88M550.80 672.09h3.2M550.80 684.88h3.2M566.61 685.29V689.69M565.01 685.29h3.2M565.01 689.69h3.2M580.83 691.92V696.32M579.23 691.92h3.2M579.23 696.32h3.2M595.04 696.18V700.58M593.44 696.18h3.2M593.44 700.58h3.2M609.25 698.08V702.48M607.65 698.08h3.2M607.65 702.48h3.2" stroke="#FF7F50" stroke-width="1" fill="none"/>
<path d="M381.85 607.35V611.75M380.25 607.35h3.2M380.25 611.75h3.2M396.06 606.64V611.04M394.46 606.64h3.2M394.46 611.04h3.2M410.28 611.86V616.26M408.68 611.86h3.2M408.68 616.26h3.2M424.49 614.22V618.62M422.89 614.22h3.2M422.89 618.62h3.2M438.70 584.85V589.25M437.10 584.85h3.2M437.10 589.25h3.2M452.91 561.64V566.04M451.31 561.64h3.2M451.31 566.04h3.2M467.12 558.32V562.72M465.52 558.32h3.2M465.52 562.72h3.2M481.34 565.43V569.83M479.74 565.43h3.2M479.74 569.83h3.2M495.55 581.06V585.46M493.95 581.06h3.2M493.95 585.46h3.2M509.76 612.33V616.73M508.16 612.33h3.2M508.16 616.73h3.2M523.98 641.70V646.10M522.38 641.70h3.2M522.38 646.10h3.2M538.19 666.34V670.74M536.59 666.34h3.2M536.59 670.74h3.2M552.40 679.60V684.00M550.80 679.60h3.2M550.80 684.00h3.2M566.61 689.55V693.95M565.01 689.55h3.2M565.01 693.95h3.2M580.83 693.81V698.21M579.23 693.81h3.2M579.23 698.21h3.2M595.04 697.60V702.00M593.44 697.60h3.2M593.44 702.00h3.2M609.25 699.02V703.43M607.65 699.02h3.2M607.65 703.43h3.2" stroke="#8B0A0A" stroke-width="1" fill="none"/>
<path d="M381.85 614.70V619.10M380.25 614.70h3.2M380.25 619.10h3.2M396.06 615.64V620.05M394.46 615.64h3.2M394.46 620.05h3.2M410.28 621.33V625.73M408.68 621.33h3.2M408.68 625.73h3.2M424.49 623.23V627.63M422.89 623.23h3.2M422.89 627.63h3.2M438.70 593.38V597.78M437.10 593.38h3.2M437.10 597.78h3.2M452.91 561.64V566.04M451.31 561.64h3.2M451.31 566.04h3.2M467.12 557.85V562.25M465.52 557.85h3.2M465.52 562.25h3.2M481.34 563.70V572.50M479.74 563.70h3.2M479.74 572.50h3.2M495.55 582.25V586.65M493.95 582.25h3.2M493.95 586.65h3.2M509.76 592.55V621.35M508.16 592.55h3.2M508.16 621.35h3.2M523.98 644.07V648.47M522.38 644.07h3.2M522.38 648.47h3.2M538.19 660.24V673.04M536.59 660.24h3.2M536.59 673.04h3.2M552.40 680.08V684.48M550.80 680.08h3.2M550.80 684.48h3.2M566.61 690.02V694.42M565.01 690.02h3.2M565.01 694.42h3.2M580.83 694.48V698.88M579.23 694.48h3.2M579.23 698.88h3.2M595.04 698.08V702.48M593.44 698.08h3.2M593.44 702.48h3.2M609.25 699.97V704.37M607.65 699.97h3.2M607.65 704.37h3.2" stroke="#F00A0A" stroke-width="1" fill="none"/>
<path d="M381.85 609.01V613.41M380.25 609.01h3.2M380.25 613.41h3.2M396.06 611.38V615.78M394.46 611.38h3.2M394.46 615.78h3.2M410.28 614.70V619.10M408.68 614.70h3.2M408.68 619.10h3.2M424.49 614.22V618.62M422.89 614.22h3.2M422.89 618.62h3.2M438.70 587.22V591.62M437.10 587.22h3.2M437.10 591.62h3.2M452.91 565.90V570.30M451.31 565.90h3.2M451.31 570.30h3.2M467.12 558.79V563.20M465.52 558.79h3.2M465.52 563.20h3.2M481.34 557.85V562.25M479.74 557.85h3.2M479.74 562.25h3.2M495.55 558.32V562.72M493.95 558.32h3.2M493.95 562.72h3.2M509.76 561.64V566.04M508.16 561.64h3.2M508.16 566.04h3.2M523.98 573.96V578.36M522.38 573.96h3.2M522.38 578.36h3.2M538.19 587.22V591.62M536.59 587.22h3.2M536.59 591.62h3.2M552.40 607.12V611.52M550.80 607.12h3.2M550.80 611.52h3.2M566.61 627.96V632.36M565.01 627.96h3.2M565.01 632.36h3.2M580.83 649.75V654.16M579.23 649.75h3.2M579.23 654.16h3.2M595.04 671.55V675.95M593.44 671.55h3.2M593.44 675.95h3.2M609.25 690.97V695.37M607.65 690.97h3.2M607.65 695.37h3.2" stroke="#0A0A8C" stroke-width="1" fill="none"/>
<path d="M381.85 611.86V616.26M380.25 611.86h3.2M380.25 616.26h3.2M396.06 609.96V614.36M394.46 609.96h3.2M394.46 614.36h3.2M410.28 614.70V619.10M408.68 614.70h3.2M408.68 619.10h3.2M424.49 611.38V615.78M422.89 611.38h3.2M422.89 615.78h3.2M438.70 577.75V582.15M437.10 577.75h3.2M437.10 582.15h3.2M452.91 560.22V564.62M451.31 560.22h3.2M451.31 564.62h3.2M467.12 556.90V561.30M465.52 556.90h3.2M465.52 561.30h3.2M481.34 560.22V564.62M479.74 560.22h3.2M479.74 564.62h3.2M495.55 560.69V565.09M493.95 560.69h3.2M493.95 565.09h3.2M509.76 572.06V576.46M508.16 572.06h3.2M508.16 576.46h3.2M523.98 571.49V594.09M522.38 571.49h3.2M522.38 594.09h3.2M538.19 600.96V605.36M536.59 600.96h3.2M536.59 605.36h3.2M552.40 616.59V620.99M550.80 616.59h3.2M550.80 620.99h3.2M566.61 631.75V636.15M565.01 631.75h3.2M565.01 636.15h3.2M580.83 651.65V656.05M579.23 651.65h3.2M579.23 656.05h3.2M595.04 671.55V675.95M593.44 671.55h3.2M593.44 675.95h3.2M609.25 690.02V694.42M607.65 690.02h3.2M607.65 694.42h3.2" stroke="#3F6FE0" stroke-width="1" fill="none"/>
<path d="M381.85 618.01V622.41M380.25 618.01h3.2M380.25 622.41h3.2M396.06 616.59V620.99M394.46 616.59h3.2M394.46 620.99h3.2M410.28 621.33V625.73M408.68 621.33h3.2M408.68 625.73h3.2M424.49 619.43V623.84M422.89 619.43h3.2M422.89 623.84h3.2M438.70 576.07V586.67M437.10 576.07h3.2M437.10 586.67h3.2M452.91 557.72V563.32M451.31 557.72h3.2M451.31 563.32h3.2M467.12 555.48V559.88M465.52 555.48h3.2M465.52 559.88h3.2M481.34 556.43V560.83M479.74 556.43h3.2M479.74 560.83h3.2M495.55 557.85V562.25M493.95 557.85h3.2M493.95 562.25h3.2M509.76 567.80V572.20M508.16 567.80h3.2M508.16 572.20h3.2M523.98 567.40V586.80M522.38 567.40h3.2M522.38 586.80h3.2M538.19 584.40V605.81M536.59 584.40h3.2M536.59 605.81h3.2M552.40 611.14V615.54M550.80 611.14h3.2M550.80 615.54h3.2M566.61 626.23V638.83M565.01 626.23h3.2M565.01 638.83h3.2M580.83 652.60V657.00M579.23 652.60h3.2M579.23 657.00h3.2M595.04 661.09V679.29M593.44 661.09h3.2M593.44 679.29h3.2M609.25 688.13V692.53M607.65 688.13h3.2M607.65 692.53h3.2" stroke="#5CB4F0" stroke-width="1" fill="none"/>
<path d="M380.35 614.45h3v3h-3zM394.56 614.92h3v3h-3zM408.78 618.24h3v3h-3zM422.99 619.19h3v3h-3zM437.20 626.29h3v3h-3zM451.41 628.66h3v3h-3zM465.62 622.98h3v3h-3zM479.84 604.50h3v3h-3zM494.05 575.13h3v3h-3zM508.26 563.29h3v3h-3zM522.48 559.02h3v3h-3zM536.69 565.18h3v3h-3zM550.90 589.34h3v3h-3zM565.11 640.51h3v3h-3zM579.33 668.69h3v3h-3zM593.54 686.93h3v3h-3zM607.75 694.04h3v3h-3z" fill="#50EE96"/>
<path d="M380.35 606.16h3v3h-3zM394.56 606.16h3v3h-3zM408.78 610.66h3v3h-3zM422.99 613.69h3v3h-3zM437.20 615.40h3v3h-3zM451.41 616.35h3v3h-3zM465.62 611.13h3v3h-3zM479.84 596.92h3v3h-3zM494.05 573.71h3v3h-3zM508.26 559.02h3v3h-3zM522.48 559.02h3v3h-3zM536.69 568.97h3v3h-3zM550.90 594.08h3v3h-3zM565.11 633.87h3v3h-3zM579.33 660.40h3v3h-3zM593.54 681.25h3v3h-3zM607.75 694.04h3v3h-3z" fill="#2E8B57"/>
<path d="M380.35 617.48h3v3h-3zM394.56 617.48h3v3h-3zM408.78 619.19h3v3h-3zM422.99 620.61h3v3h-3zM437.20 622.98h3v3h-3zM451.41 622.98h3v3h-3zM465.62 620.61h3v3h-3zM479.84 606.87h3v3h-3zM494.05 584.13h3v3h-3zM508.26 564.23h3v3h-3zM522.48 558.55h3v3h-3zM536.69 565.18h3v3h-3zM550.90 589.34h3v3h-3zM565.11 632.45h3v3h-3zM579.33 656.85h3v3h-3zM593.54 681.49h3v3h-3zM607.75 694.23h3v3h-3z" fill="#32C832"/>
<path d="M380.35 615.87h3v3h-3zM394.56 615.87h3v3h-3zM408.78 622.98h3v3h-3zM422.99 628.66h3v3h-3zM437.20 602.61h3v3h-3zM451.41 562.34h3v3h-3zM465.62 554.05h3v3h-3zM479.84 555.23h3v3h-3zM494.05 574.18h3v3h-3zM508.26 606.87h3v3h-3zM522.48 636.72h3v3h-3zM536.69 658.51h3v3h-3zM550.90 676.99h3v3h-3zM565.11 685.99h3v3h-3zM579.33 692.62h3v3h-3zM593.54 696.88h3v3h-3zM607.75 698.78h3v3h-3z" fill="#FF7F50"/>
<path d="M380.35 608.05h3v3h-3zM394.56 607.34h3v3h-3zM408.78 612.56h3v3h-3zM422.99 614.92h3v3h-3zM437.20 585.55h3v3h-3zM451.41 562.34h3v3h-3zM465.62 559.02h3v3h-3zM479.84 566.13h3v3h-3zM494.05 581.76h3v3h-3zM508.26 613.03h3v3h-3zM522.48 642.40h3v3h-3zM536.69 667.04h3v3h-3zM550.90 680.30h3v3h-3zM565.11 690.25h3v3h-3zM579.33 694.51h3v3h-3zM593.54 698.30h3v3h-3zM607.75 699.73h3v3h-3z" fill="#8B0A0A"/>
<path d="M380.35 615.40h3v3h-3zM394.56 616.35h3v3h-3zM408.78 622.03h3v3h-3zM422.99 623.93h3v3h-3zM437.20 594.08h3v3h-3zM451.41 562.34h3v3h-3zM465.62 558.55h3v3h-3zM479.84 566.60h3v3h-3zM494.05 582.95h3v3h-3zM508.26 605.45h3v3h-3zM522.48 644.77h3v3h-3zM536.69 665.14h3v3h-3zM550.90 680.78h3v3h-3zM565.11 690.72h3v3h-3zM579.33 695.18h3v3h-3zM593.54 698.78h3v3h-3zM607.75 700.67h3v3h-3z" fill="#F00A0A"/>
<path d="M380.35 609.71h3v3h-3zM394.56 612.08h3v3h-3zM408.78 615.40h3v3h-3zM422.99 614.92h3v3h-3zM437.20 587.92h3v3h-3zM451.41 566.60h3v3h-3zM465.62 559.50h3v3h-3zM479.84 558.55h3v3h-3zM494.05 559.02h3v3h-3zM508.26 562.34h3v3h-3zM522.48 574.66h3v3h-3zM536.69 587.92h3v3h-3zM550.90 607.82h3v3h-3zM565.11 628.66h3v3h-3zM579.33 650.46h3v3h-3zM593.54 672.25h3v3h-3zM607.75 691.67h3v3h-3z" fill="#0A0A8C"/>
<path d="M380.35 612.56h3v3h-3zM394.56 610.66h3v3h-3zM408.78 615.40h3v3h-3zM422.99 612.08h3v3h-3zM437.20 578.45h3v3h-3zM451.41 560.92h3v3h-3zM465.62 557.60h3v3h-3zM479.84 560.92h3v3h-3zM494.05 561.39h3v3h-3zM508.26 572.76h3v3h-3zM522.48 581.29h3v3h-3zM536.69 601.66h3v3h-3zM550.90 617.29h3v3h-3zM565.11 632.45h3v3h-3zM579.33 652.35h3v3h-3zM593.54 672.25h3v3h-3zM607.75 690.72h3v3h-3z" fill="#3F6FE0"/>
<path d="M380.35 618.71h3v3h-3zM394.56 617.29h3v3h-3zM408.78 622.03h3v3h-3zM422.99 620.13h3v3h-3zM437.20 579.87h3v3h-3zM451.41 559.02h3v3h-3zM465.62 556.18h3v3h-3zM479.84 557.13h3v3h-3zM494.05 558.55h3v3h-3zM508.26 568.50h3v3h-3zM522.48 575.60h3v3h-3zM536.69 593.61h3v3h-3zM550.90 611.84h3v3h-3zM565.11 631.03h3v3h-3zM579.33 653.30h3v3h-3zM593.54 668.69h3v3h-3zM607.75 688.83h3v3h-3z" fill="#5CB4F0"/>
</g>
<polyline points="382.3,165.5 382.3,341.1 623.4,341.1 623.4,165.5" fill="none" stroke="#3d3d3d" stroke-width="1.2"/>
<rect x="382.3" y="353.4" width="241.09999999999997" height="176.5" fill="none" stroke="#3d3d3d" stroke-width="1.2"/>
<rect x="382.3" y="541.9" width="241.09999999999997" height="175.89999999999998" fill="none" stroke="#3d3d3d" stroke-width="1.2"/>
<line x1="379.8" y1="172.40" x2="382.3" y2="172.40" stroke="#1a1a1a" stroke-width="1.3"/>
<text transform="translate(376.80 177.60) scale(1.1 1)" font-size="12.5" text-anchor="end" stroke="#1a1a1a" stroke-width="0.3" fill="#1a1a1a">75</text>
<line x1="379.8" y1="199.25" x2="382.3" y2="199.25" stroke="#1a1a1a" stroke-width="1.3"/>
<text transform="translate(376.80 204.45) scale(1.1 1)" font-size="12.5" text-anchor="end" stroke="#1a1a1a" stroke-width="0.3" fill="#1a1a1a">65</text>
<line x1="379.8" y1="226.10" x2="382.3" y2="226.10" stroke="#1a1a1a" stroke-width="1.3"/>
<text transform="translate(376.80 231.30) scale(1.1 1)" font-size="12.5" text-anchor="end" stroke="#1a1a1a" stroke-width="0.3" fill="#1a1a1a">55</text>
<line x1="379.8" y1="252.95" x2="382.3" y2="252.95" stroke="#1a1a1a" stroke-width="1.3"/>
<text transform="translate(376.80 258.15) scale(1.1 1)" font-size="12.5" text-anchor="end" stroke="#1a1a1a" stroke-width="0.3" fill="#1a1a1a">45</text>
<line x1="379.8" y1="279.80" x2="382.3" y2="279.80" stroke="#1a1a1a" stroke-width="1.3"/>
<text transform="translate(376.80 285.00) scale(1.1 1)" font-size="12.5" text-anchor="end" stroke="#1a1a1a" stroke-width="0.3" fill="#1a1a1a">35</text>
<line x1="379.8" y1="306.65" x2="382.3" y2="306.65" stroke="#1a1a1a" stroke-width="1.3"/>
<text transform="translate(376.80 311.85) scale(1.1 1)" font-size="12.5" text-anchor="end" stroke="#1a1a1a" stroke-width="0.3" fill="#1a1a1a">25</text>
<line x1="379.8" y1="333.50" x2="382.3" y2="333.50" stroke="#1a1a1a" stroke-width="1.3"/>
<text transform="translate(376.80 338.70) scale(1.1 1)" font-size="12.5" text-anchor="end" stroke="#1a1a1a" stroke-width="0.3" fill="#1a1a1a">15</text>
<line x1="379.8" y1="361.08" x2="382.3" y2="361.08" stroke="#1a1a1a" stroke-width="1.3"/>
<text transform="translate(376.80 365.48) scale(1.1 1)" font-size="12.5" text-anchor="end" stroke="#1a1a1a" stroke-width="0.3" fill="#1a1a1a">16</text>
<line x1="379.8" y1="401.36" x2="382.3" y2="401.36" stroke="#1a1a1a" stroke-width="1.3"/>
<text transform="translate(376.80 405.76) scale(1.1 1)" font-size="12.5" text-anchor="end" stroke="#1a1a1a" stroke-width="0.3" fill="#1a1a1a">12</text>
<line x1="379.8" y1="441.64" x2="382.3" y2="441.64" stroke="#1a1a1a" stroke-width="1.3"/>
<text transform="translate(376.80 446.04) scale(1.1 1)" font-size="12.5" text-anchor="end" stroke="#1a1a1a" stroke-width="0.3" fill="#1a1a1a">8</text>
<line x1="379.8" y1="481.92" x2="382.3" y2="481.92" stroke="#1a1a1a" stroke-width="1.3"/>
<text transform="translate(376.80 486.32) scale(1.1 1)" font-size="12.5" text-anchor="end" stroke="#1a1a1a" stroke-width="0.3" fill="#1a1a1a">4</text>
<line x1="379.8" y1="522.20" x2="382.3" y2="522.20" stroke="#1a1a1a" stroke-width="1.3"/>
<text transform="translate(376.80 526.60) scale(1.1 1)" font-size="12.5" text-anchor="end" stroke="#1a1a1a" stroke-width="0.3" fill="#1a1a1a">0</text>
<line x1="379.8" y1="559.10" x2="382.3" y2="559.10" stroke="#1a1a1a" stroke-width="1.3"/>
<text transform="translate(376.80 563.30) scale(1.1 1)" font-size="12.5" text-anchor="end" stroke="#1a1a1a" stroke-width="0.3" fill="#1a1a1a">32</text>
<line x1="379.8" y1="597.00" x2="382.3" y2="597.00" stroke="#1a1a1a" stroke-width="1.3"/>
<text transform="translate(376.80 601.20) scale(1.1 1)" font-size="12.5" text-anchor="end" stroke="#1a1a1a" stroke-width="0.3" fill="#1a1a1a">24</text>
<line x1="379.8" y1="634.90" x2="382.3" y2="634.90" stroke="#1a1a1a" stroke-width="1.3"/>
<text transform="translate(376.80 639.10) scale(1.1 1)" font-size="12.5" text-anchor="end" stroke="#1a1a1a" stroke-width="0.3" fill="#1a1a1a">16</text>
<line x1="379.8" y1="672.80" x2="382.3" y2="672.80" stroke="#1a1a1a" stroke-width="1.3"/>
<text transform="translate(376.80 677.00) scale(1.1 1)" font-size="12.5" text-anchor="end" stroke="#1a1a1a" stroke-width="0.3" fill="#1a1a1a">8</text>
<line x1="379.8" y1="710.70" x2="382.3" y2="710.70" stroke="#1a1a1a" stroke-width="1.3"/>
<text transform="translate(376.80 714.90) scale(1.1 1)" font-size="12.5" text-anchor="end" stroke="#1a1a1a" stroke-width="0.3" fill="#1a1a1a">0</text>
<line x1="410.28" y1="717.8" x2="410.28" y2="720.3" stroke="#1a1a1a" stroke-width="1.3"/>
<text transform="translate(410.28 732.20) scale(1.06 1)" font-size="12.2" text-anchor="middle" stroke="#1a1a1a" stroke-width="0.3" fill="#1a1a1a">2</text>
<line x1="438.70" y1="717.8" x2="438.70" y2="720.3" stroke="#1a1a1a" stroke-width="1.3"/>
<text transform="translate(438.70 732.20) scale(1.06 1)" font-size="12.2" text-anchor="middle" stroke="#1a1a1a" stroke-width="0.3" fill="#1a1a1a">4</text>
<line x1="467.12" y1="717.8" x2="467.12" y2="720.3" stroke="#1a1a1a" stroke-width="1.3"/>
<text transform="translate(467.12 732.20) scale(1.06 1)" font-size="12.2" text-anchor="middle" stroke="#1a1a1a" stroke-width="0.3" fill="#1a1a1a">6</text>
<line x1="495.55" y1="717.8" x2="495.55" y2="720.3" stroke="#1a1a1a" stroke-width="1.3"/>
<text transform="translate(495.55 732.20) scale(1.06 1)" font-size="12.2" text-anchor="middle" stroke="#1a1a1a" stroke-width="0.3" fill="#1a1a1a">8</text>
<line x1="523.98" y1="717.8" x2="523.98" y2="720.3" stroke="#1a1a1a" stroke-width="1.3"/>
<text transform="translate(523.98 732.20) scale(1.06 1)" font-size="12.2" text-anchor="middle" stroke="#1a1a1a" stroke-width="0.3" fill="#1a1a1a">10</text>
<line x1="552.40" y1="717.8" x2="552.40" y2="720.3" stroke="#1a1a1a" stroke-width="1.3"/>
<text transform="translate(552.40 732.20) scale(1.06 1)" font-size="12.2" text-anchor="middle" stroke="#1a1a1a" stroke-width="0.3" fill="#1a1a1a">12</text>
<line x1="580.83" y1="717.8" x2="580.83" y2="720.3" stroke="#1a1a1a" stroke-width="1.3"/>
<text transform="translate(580.83 732.20) scale(1.06 1)" font-size="12.2" text-anchor="middle" stroke="#1a1a1a" stroke-width="0.3" fill="#1a1a1a">14</text>
<line x1="609.25" y1="717.8" x2="609.25" y2="720.3" stroke="#1a1a1a" stroke-width="1.3"/>
<text transform="translate(609.25 732.20) scale(1.06 1)" font-size="12.2" text-anchor="middle" stroke="#1a1a1a" stroke-width="0.3" fill="#1a1a1a">16</text>
<text x="502.45" y="753.10" font-size="15" text-anchor="middle" stroke="#1a1a1a" stroke-width="0.3" textLength="144.7" lengthAdjust="spacingAndGlyphs" fill="#1a1a1a">Roasting Time (min)</text>
<text transform="translate(344.00 258.90) scale(1.06 1)" font-size="14.5" stroke="#1a1a1a" stroke-width="0.3" fill="#1a1a1a">L*</text>
<text transform="translate(344.00 446.10) scale(1.06 1)" font-size="14.5" stroke="#1a1a1a" stroke-width="0.3" fill="#1a1a1a">a*</text>
<text transform="translate(344.00 636.60) scale(1.06 1)" font-size="14.5" stroke="#1a1a1a" stroke-width="0.3" fill="#1a1a1a">b*</text>
</svg>
</body></html>
